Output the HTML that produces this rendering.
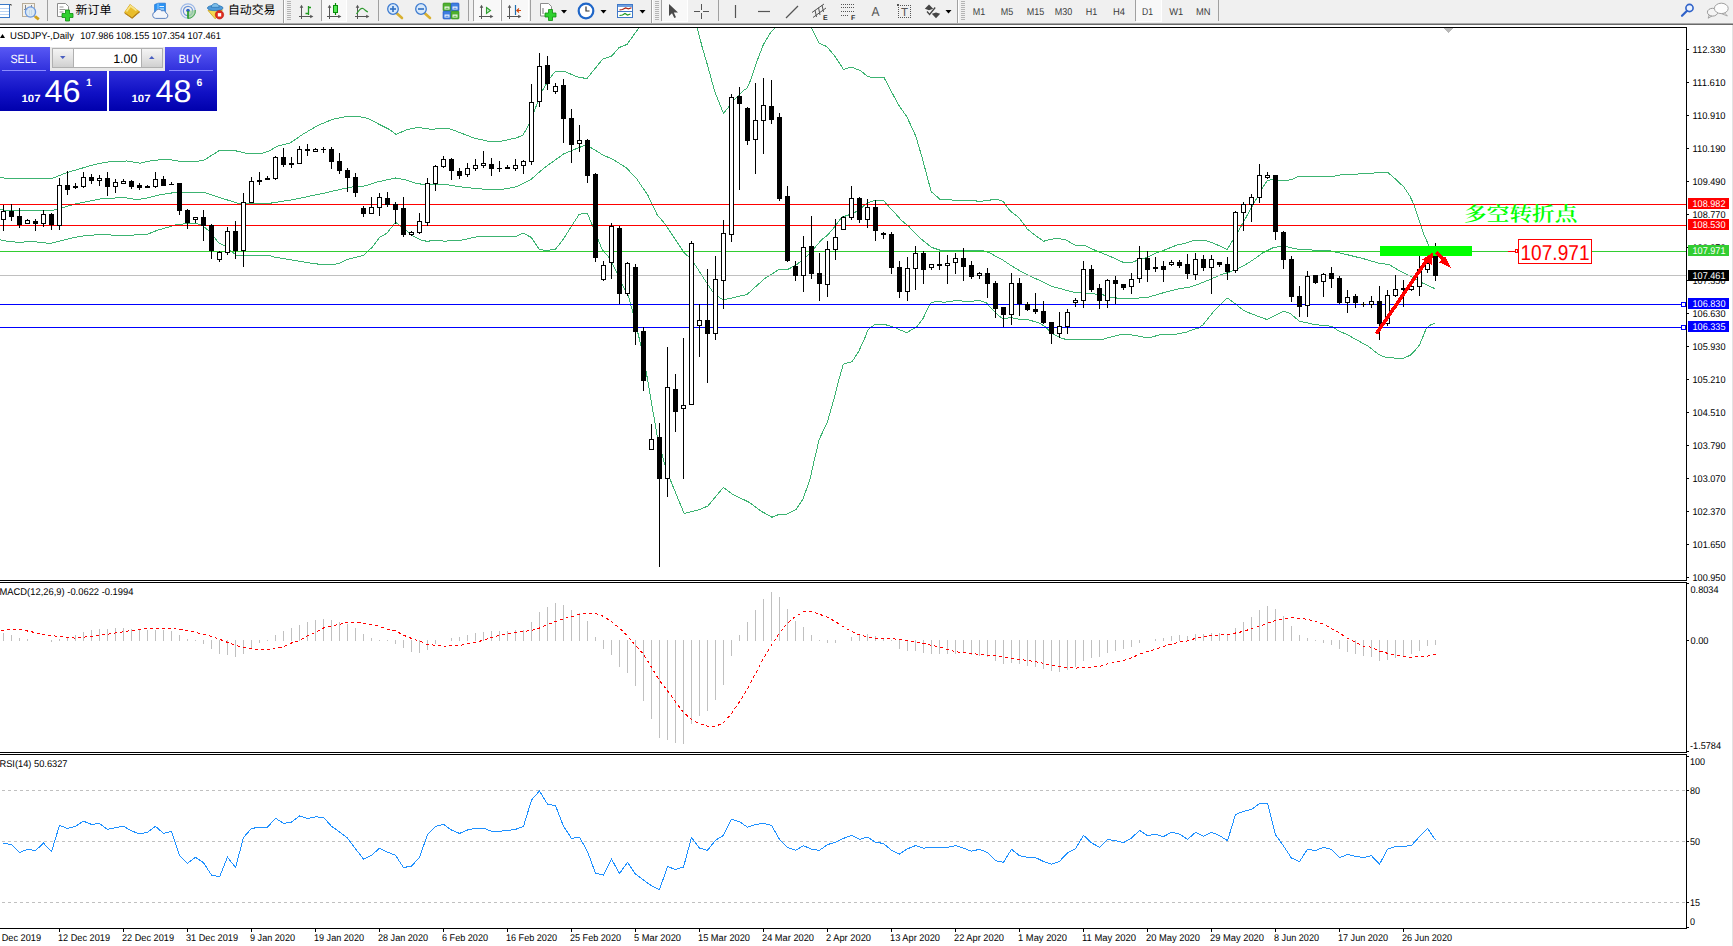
<!DOCTYPE html>
<html><head><meta charset="utf-8"><title>USDJPY Daily</title>
<style>html,body{margin:0;padding:0;background:#fff;overflow:hidden}body{width:1733px;height:946px}svg text{text-rendering:geometricPrecision}</style></head>
<body>
<svg width="1733" height="946" viewBox="0 0 1733 946" style="display:block">
<g shape-rendering="crispEdges">
<rect x="0" y="0" width="1733" height="946" fill="#fff"/>
<rect x="0" y="0" width="1733" height="23" fill="#f0f0f0"/>
<rect x="0" y="23" width="1733" height="1" fill="#a8a8a8"/>
<rect x="0" y="24" width="1733" height="1" fill="#696969"/>
<rect x="1732" y="25" width="1" height="921" fill="#e3e3e3"/>
<rect x="0" y="27" width="1687" height="1" fill="#000"/>
<rect x="1686" y="27" width="1" height="554" fill="#000"/>
<rect x="0" y="580" width="1687" height="1" fill="#000"/>
<rect x="0" y="582" width="1687" height="1" fill="#000"/>
<rect x="1686" y="582" width="1" height="171" fill="#000"/>
<rect x="0" y="752" width="1687" height="1" fill="#000"/>
<rect x="0" y="754" width="1687" height="1" fill="#000"/>
<rect x="1686" y="754" width="1" height="175" fill="#000"/>
<rect x="0" y="928" width="1687" height="1" fill="#000"/>
</g>
<g shape-rendering="crispEdges">
<polyline points="0.0,177.5 7.5,178.5 52.0,178.5 67.0,172.5 95.0,164.4 112.0,161.2 127.0,161.0 140.0,163.2 153.0,160.3 168.0,159.4 179.4,161.3 194.4,161.6 203.8,160.3 218.8,150.9 233.8,150.4 246.9,153.4 261.9,153.4 269.4,150.9 276.9,146.3 290.0,143.1 303.1,134.1 318.1,125.3 333.1,119.1 346.3,116.6 359.4,116.6 366.9,118.1 380.0,124.7 389.4,129.4 395.9,134.4 406.3,129.9 417.5,127.5 432.5,129.4 439.5,128.2 447.0,128.2 453.0,129.9 473.0,137.7 488.0,141.3 502.0,141.1 517.0,137.7 523.0,135.1 529.0,124.3 534.0,111.8 541.7,91.8 549.0,79.4 555.4,71.3 564.0,71.3 579.0,77.5 587.0,78.4 603.0,58.8 611.5,56.3 619.0,47.6 627.0,44.4 638.7,28.0" fill="none" stroke="#3cb371" stroke-width="1"/>
<polyline points="697.3,28.0 702.3,47.6 707.3,64.4 714.8,91.8 723.5,113.4 734.7,99.3 743.4,90.6 747.2,88.1 750.9,79.4 757.2,60.7 763.4,44.5 770.9,32.0 775.2,28.0" fill="none" stroke="#3cb371" stroke-width="1"/>
<polyline points="811.4,28.0 818.9,43.0 827.0,46.7 835.4,56.9 843.5,69.4 851.6,67.1 860.3,70.6 867.8,76.5 872.8,77.5 884.0,77.5 891.5,91.8 899.0,105.6 906.5,116.2 913.1,130.0 916.2,137.5 922.4,158.7 927.4,177.4 931.2,191.7 939.9,199.2 951.1,199.6 953.6,200.4 974.8,200.4 977.3,201.3 982.3,201.3 983.5,200.4 989.8,200.4 992.3,199.2 997.3,199.2 1003.5,201.7 1007.2,207.3 1011.0,211.7 1018.5,217.3 1023.4,223.5 1027.2,229.1 1034.9,235.0 1043.5,241.3 1049.6,239.5 1056.1,238.5 1064.8,239.4 1076.0,245.6 1084.8,245.6 1097.2,251.2 1109.7,256.2 1123.4,262.4 1132.1,262.4 1139.6,259.3 1147.1,257.4 1155.8,253.1 1164.6,250.0 1177.0,245.0 1185.8,243.1 1194.5,240.2 1205.5,240.4 1214.2,243.5 1227.3,249.5 1239.1,229.8 1251.6,207.4 1262.8,187.4 1267.2,180.6 1272.8,179.3 1280.3,180.6 1285.3,180.6 1292.8,179.3 1299.0,176.2 1333.9,176.2 1343.9,174.3 1357.6,174.3 1360.1,173.1 1373.8,173.1 1376.3,172.2 1387.5,172.2 1395.0,178.7 1403.7,186.8 1410.0,196.2 1414.0,204.9 1424.1,235.0 1428.8,245.5 1435.0,253.0" fill="none" stroke="#3cb371" stroke-width="1"/>
<polyline points="0.0,209.3 7.5,210.5 52.0,210.5 62.0,207.8 77.0,203.6 103.5,198.4 125.0,197.7 137.0,199.7 147.0,198.0 160.0,194.7 177.0,192.2 204.5,192.4 216.0,196.5 238.4,203.3 269.6,203.3 293.3,199.6 322.0,193.6 350.7,187.1 365.6,185.9 378.0,181.8 395.5,178.0 405.5,179.9 418.0,183.9 432.0,184.5 444.5,184.2 457.0,186.4 473.0,188.2 488.0,189.6 503.0,189.2 517.0,186.7 530.5,179.9 544.0,168.0 564.0,153.7 585.4,145.0 591.6,148.1 604.0,155.6 613.0,159.3 626.5,168.0 636.5,178.6 648.0,195.5 649.9,200.0 657.3,215.0 664.8,223.7 677.3,242.4 684.8,253.6 689.8,257.4 696.0,266.1 704.7,279.8 712.2,291.0 719.7,297.9 724.0,299.8 747.0,294.5 764.6,278.6 779.5,269.2 788.3,269.2 797.0,264.3 807.0,256.2 814.4,248.1 821.7,239.7 828.0,234.7 834.2,227.3 841.7,217.3 849.1,214.8 857.9,211.0 864.1,205.4 870.3,201.7 876.6,200.2 883.4,200.4 887.8,205.4 896.5,214.8 901.5,220.4 909.0,226.6 919.2,237.5 931.6,247.4 940.4,250.3 981.5,250.3 987.7,252.2 990.0,253.1 1002.5,259.9 1014.9,268.0 1027.4,274.9 1039.9,280.5 1051.1,286.1 1062.3,289.2 1074.8,292.6 1082.3,292.6 1089.8,293.6 1102.2,294.6 1109.7,297.1 1120.9,298.6 1133.4,298.6 1148.4,297.1 1164.6,292.4 1177.0,289.2 1189.5,287.1 1198.0,284.3 1210.5,279.3 1220.4,274.9 1230.4,271.8 1244.1,265.6 1252.9,260.0 1262.8,252.9 1272.8,247.9 1280.3,246.3 1287.8,247.0 1299.0,249.5 1307.7,249.5 1315.2,250.4 1327.7,250.4 1335.2,252.0 1347.6,254.8 1363.8,258.8 1378.8,263.2 1388.8,264.5 1400.0,271.0 1410.0,276.0 1421.8,282.7 1434.6,288.5" fill="none" stroke="#3cb371" stroke-width="1"/>
<polyline points="0.0,239.8 7.5,241.3 21.0,242.5 29.0,241.0 50.0,243.5 75.0,237.3 87.0,235.4 110.0,234.2 112.0,235.4 125.0,235.4 147.0,234.4 157.0,230.4 177.0,224.6 192.5,223.1 200.0,224.3 205.0,227.5 211.0,233.0 218.6,242.7 225.0,245.9 230.0,249.9 236.0,255.1 268.5,255.1 274.7,257.1 297.2,260.9 312.0,263.4 321.0,264.4 333.4,264.4 339.6,263.4 347.0,259.6 363.3,255.5 372.0,247.4 379.5,237.4 387.0,233.1 392.0,226.8 395.5,222.3 405.5,229.8 410.5,234.8 420.5,239.8 428.0,241.6 432.0,240.0 444.5,241.2 462.0,240.0 478.0,236.6 510.0,236.4 516.2,236.4 523.1,233.0 531.2,237.4 539.3,249.3 546.2,250.5 555.5,249.3 563.6,238.7 572.3,224.9 579.2,214.3 587.3,213.1 591.7,223.7 597.3,237.4 602.3,249.9 608.5,256.7 616.0,271.1 623.5,287.3 628.4,296.0 632.8,312.2 639.9,341.1 646.1,371.1 651.0,400.0 657.3,436.2 664.8,464.8 669.8,478.6 684.1,513.5 699.7,509.5 707.8,506.0 723.4,487.3 732.1,494.1 749.6,502.5 760.8,511.0 772.0,517.2 779.5,514.2 787.0,514.2 796.0,509.7 803.2,498.6 810.2,478.6 814.2,460.5 819.2,439.4 827.3,422.3 835.3,394.2 839.3,378.2 843.3,364.1 852.0,361.7 858.4,352.0 864.0,340.0 868.0,329.9 874.3,324.7 885.5,324.7 894.2,327.4 906.7,332.7 916.7,326.8 922.9,318.7 930.4,303.1 936.6,301.3 944.1,302.3 956.6,300.4 969.0,301.7 979.0,300.2 986.5,302.9 990.0,307.3 997.5,314.8 1003.7,319.2 1010.0,317.5 1018.7,319.2 1028.7,319.8 1039.9,323.3 1046.1,327.3 1051.1,332.9 1059.8,337.5 1066.1,339.5 1102.2,339.5 1112.2,336.6 1122.2,334.1 1130.9,334.8 1145.9,337.5 1152.1,337.0 1162.1,334.1 1173.3,334.8 1185.8,332.3 1194.5,329.1 1198.0,328.3 1203.0,324.8 1213.0,312.3 1227.3,298.0 1235.4,303.9 1244.1,310.8 1254.1,314.8 1267.2,319.6 1283.4,311.1 1290.3,313.6 1299.6,321.3 1315.2,324.6 1331.4,326.3 1338.9,331.0 1347.6,334.8 1357.6,340.4 1368.8,346.6 1378.8,354.7 1385.0,357.0 1392.5,357.9 1402.5,358.5 1410.0,355.4 1414.0,351.6 1419.5,345.0 1426.5,328.0 1431.1,324.5 1434.6,323.4" fill="none" stroke="#3cb371" stroke-width="1"/>
</g>
<g shape-rendering="crispEdges">
<rect x="0" y="275" width="1686" height="1" fill="#c0c0c0"/>
<rect x="0" y="204" width="1686" height="1" fill="#ff0000"/>
<rect x="0" y="225" width="1686" height="1" fill="#ff0000"/>
<rect x="0" y="251" width="1686" height="1" fill="#32cd32"/>
<rect x="0" y="304" width="1686" height="1" fill="#0000ff"/>
<rect x="0" y="327" width="1686" height="1" fill="#0000ff"/>
<rect x="3" y="205" width="1" height="26" fill="#000"/>
<rect x="1" y="211" width="5" height="9" fill="#000"/>
<rect x="2" y="212" width="3" height="7" fill="#fff"/>
<rect x="11" y="204" width="1" height="17" fill="#000"/>
<rect x="9" y="211" width="5" height="6" fill="#000"/>
<rect x="19" y="208" width="1" height="20" fill="#000"/>
<rect x="17" y="216" width="5" height="9" fill="#000"/>
<rect x="27" y="219" width="1" height="5" fill="#000"/>
<rect x="25" y="220" width="5" height="4" fill="#000"/>
<rect x="26" y="221" width="3" height="2" fill="#fff"/>
<rect x="35" y="219" width="1" height="12" fill="#000"/>
<rect x="33" y="221" width="5" height="3" fill="#000"/>
<rect x="43" y="210" width="1" height="17" fill="#000"/>
<rect x="41" y="214" width="5" height="10" fill="#000"/>
<rect x="42" y="215" width="3" height="8" fill="#fff"/>
<rect x="51" y="213" width="1" height="17" fill="#000"/>
<rect x="49" y="214" width="5" height="11" fill="#000"/>
<rect x="59" y="178" width="1" height="52" fill="#000"/>
<rect x="57" y="185" width="5" height="41" fill="#000"/>
<rect x="58" y="186" width="3" height="39" fill="#fff"/>
<rect x="67" y="171" width="1" height="24" fill="#000"/>
<rect x="65" y="185" width="5" height="5" fill="#000"/>
<rect x="75" y="183" width="1" height="6" fill="#000"/>
<rect x="73" y="186" width="5" height="2" fill="#000"/>
<rect x="83" y="172" width="1" height="16" fill="#000"/>
<rect x="81" y="177" width="5" height="10" fill="#000"/>
<rect x="82" y="178" width="3" height="8" fill="#fff"/>
<rect x="91" y="174" width="1" height="10" fill="#000"/>
<rect x="89" y="177" width="5" height="4" fill="#000"/>
<rect x="99" y="175" width="1" height="11" fill="#000"/>
<rect x="97" y="178" width="5" height="3" fill="#000"/>
<rect x="98" y="179" width="3" height="1" fill="#fff"/>
<rect x="107" y="172" width="1" height="24" fill="#000"/>
<rect x="105" y="178" width="5" height="9" fill="#000"/>
<rect x="115" y="179" width="1" height="14" fill="#000"/>
<rect x="113" y="182" width="5" height="5" fill="#000"/>
<rect x="114" y="183" width="3" height="3" fill="#fff"/>
<rect x="123" y="179" width="1" height="5" fill="#000"/>
<rect x="121" y="181" width="5" height="3" fill="#000"/>
<rect x="122" y="182" width="3" height="1" fill="#fff"/>
<rect x="131" y="180" width="1" height="9" fill="#000"/>
<rect x="129" y="181" width="5" height="6" fill="#000"/>
<rect x="139" y="183" width="1" height="7" fill="#000"/>
<rect x="137" y="185" width="5" height="3" fill="#000"/>
<rect x="147" y="185" width="1" height="3" fill="#000"/>
<rect x="145" y="186" width="5" height="2" fill="#000"/>
<rect x="155" y="172" width="1" height="16" fill="#000"/>
<rect x="153" y="179" width="5" height="8" fill="#000"/>
<rect x="154" y="180" width="3" height="6" fill="#fff"/>
<rect x="163" y="176" width="1" height="10" fill="#000"/>
<rect x="161" y="179" width="5" height="7" fill="#000"/>
<rect x="171" y="182" width="1" height="3" fill="#000"/>
<rect x="169" y="184" width="5" height="1" fill="#000"/>
<rect x="179" y="183" width="1" height="32" fill="#000"/>
<rect x="177" y="183" width="5" height="28" fill="#000"/>
<rect x="187" y="209" width="1" height="20" fill="#000"/>
<rect x="185" y="210" width="5" height="13" fill="#000"/>
<rect x="195" y="217" width="1" height="6" fill="#000"/>
<rect x="193" y="217" width="5" height="3" fill="#000"/>
<rect x="194" y="218" width="3" height="1" fill="#fff"/>
<rect x="203" y="210" width="1" height="31" fill="#000"/>
<rect x="201" y="217" width="5" height="9" fill="#000"/>
<rect x="211" y="224" width="1" height="35" fill="#000"/>
<rect x="209" y="225" width="5" height="26" fill="#000"/>
<rect x="219" y="251" width="1" height="11" fill="#000"/>
<rect x="217" y="252" width="5" height="8" fill="#000"/>
<rect x="218" y="253" width="3" height="6" fill="#fff"/>
<rect x="227" y="227" width="1" height="28" fill="#000"/>
<rect x="225" y="231" width="5" height="22" fill="#000"/>
<rect x="226" y="232" width="3" height="20" fill="#fff"/>
<rect x="235" y="221" width="1" height="38" fill="#000"/>
<rect x="233" y="231" width="5" height="20" fill="#000"/>
<rect x="243" y="193" width="1" height="74" fill="#000"/>
<rect x="241" y="202" width="5" height="49" fill="#000"/>
<rect x="242" y="203" width="3" height="47" fill="#fff"/>
<rect x="251" y="177" width="1" height="26" fill="#000"/>
<rect x="249" y="181" width="5" height="22" fill="#000"/>
<rect x="250" y="182" width="3" height="20" fill="#fff"/>
<rect x="259" y="172" width="1" height="13" fill="#000"/>
<rect x="257" y="180" width="5" height="2" fill="#000"/>
<rect x="267" y="176" width="1" height="4" fill="#000"/>
<rect x="265" y="178" width="5" height="2" fill="#000"/>
<rect x="275" y="156" width="1" height="24" fill="#000"/>
<rect x="273" y="157" width="5" height="22" fill="#000"/>
<rect x="274" y="158" width="3" height="20" fill="#fff"/>
<rect x="283" y="148" width="1" height="19" fill="#000"/>
<rect x="281" y="157" width="5" height="8" fill="#000"/>
<rect x="291" y="157" width="1" height="11" fill="#000"/>
<rect x="289" y="163" width="5" height="2" fill="#000"/>
<rect x="299" y="146" width="1" height="18" fill="#000"/>
<rect x="297" y="149" width="5" height="15" fill="#000"/>
<rect x="298" y="150" width="3" height="13" fill="#fff"/>
<rect x="307" y="144" width="1" height="12" fill="#000"/>
<rect x="305" y="149" width="5" height="2" fill="#000"/>
<rect x="315" y="148" width="1" height="4" fill="#000"/>
<rect x="313" y="149" width="5" height="3" fill="#000"/>
<rect x="314" y="150" width="3" height="1" fill="#fff"/>
<rect x="323" y="147" width="1" height="6" fill="#000"/>
<rect x="321" y="149" width="5" height="1" fill="#000"/>
<rect x="331" y="147" width="1" height="22" fill="#000"/>
<rect x="329" y="149" width="5" height="13" fill="#000"/>
<rect x="339" y="153" width="1" height="21" fill="#000"/>
<rect x="337" y="161" width="5" height="10" fill="#000"/>
<rect x="347" y="168" width="1" height="24" fill="#000"/>
<rect x="345" y="170" width="5" height="8" fill="#000"/>
<rect x="355" y="173" width="1" height="24" fill="#000"/>
<rect x="353" y="177" width="5" height="16" fill="#000"/>
<rect x="363" y="206" width="1" height="11" fill="#000"/>
<rect x="361" y="208" width="5" height="6" fill="#000"/>
<rect x="371" y="197" width="1" height="17" fill="#000"/>
<rect x="369" y="207" width="5" height="7" fill="#000"/>
<rect x="370" y="208" width="3" height="5" fill="#fff"/>
<rect x="379" y="193" width="1" height="23" fill="#000"/>
<rect x="377" y="197" width="5" height="11" fill="#000"/>
<rect x="378" y="198" width="3" height="9" fill="#fff"/>
<rect x="387" y="192" width="1" height="15" fill="#000"/>
<rect x="385" y="198" width="5" height="7" fill="#000"/>
<rect x="395" y="202" width="1" height="22" fill="#000"/>
<rect x="393" y="204" width="5" height="6" fill="#000"/>
<rect x="403" y="197" width="1" height="40" fill="#000"/>
<rect x="401" y="208" width="5" height="27" fill="#000"/>
<rect x="411" y="231" width="1" height="5" fill="#000"/>
<rect x="409" y="232" width="5" height="3" fill="#000"/>
<rect x="410" y="233" width="3" height="1" fill="#fff"/>
<rect x="419" y="213" width="1" height="21" fill="#000"/>
<rect x="417" y="221" width="5" height="12" fill="#000"/>
<rect x="418" y="222" width="3" height="10" fill="#fff"/>
<rect x="427" y="178" width="1" height="48" fill="#000"/>
<rect x="425" y="183" width="5" height="40" fill="#000"/>
<rect x="426" y="184" width="3" height="38" fill="#fff"/>
<rect x="435" y="165" width="1" height="26" fill="#000"/>
<rect x="433" y="166" width="5" height="18" fill="#000"/>
<rect x="434" y="167" width="3" height="16" fill="#fff"/>
<rect x="443" y="156" width="1" height="12" fill="#000"/>
<rect x="441" y="159" width="5" height="8" fill="#000"/>
<rect x="442" y="160" width="3" height="6" fill="#fff"/>
<rect x="451" y="158" width="1" height="22" fill="#000"/>
<rect x="449" y="159" width="5" height="12" fill="#000"/>
<rect x="459" y="168" width="1" height="11" fill="#000"/>
<rect x="457" y="171" width="5" height="5" fill="#000"/>
<rect x="467" y="163" width="1" height="14" fill="#000"/>
<rect x="465" y="168" width="5" height="7" fill="#000"/>
<rect x="466" y="169" width="3" height="5" fill="#fff"/>
<rect x="475" y="159" width="1" height="12" fill="#000"/>
<rect x="473" y="165" width="5" height="4" fill="#000"/>
<rect x="474" y="166" width="3" height="2" fill="#fff"/>
<rect x="483" y="151" width="1" height="17" fill="#000"/>
<rect x="481" y="163" width="5" height="3" fill="#000"/>
<rect x="482" y="164" width="3" height="1" fill="#fff"/>
<rect x="491" y="158" width="1" height="18" fill="#000"/>
<rect x="489" y="164" width="5" height="5" fill="#000"/>
<rect x="499" y="161" width="1" height="11" fill="#000"/>
<rect x="497" y="168" width="5" height="1" fill="#000"/>
<rect x="507" y="165" width="1" height="4" fill="#000"/>
<rect x="505" y="167" width="5" height="2" fill="#000"/>
<rect x="515" y="159" width="1" height="12" fill="#000"/>
<rect x="513" y="165" width="5" height="4" fill="#000"/>
<rect x="514" y="166" width="3" height="2" fill="#fff"/>
<rect x="523" y="160" width="1" height="14" fill="#000"/>
<rect x="521" y="161" width="5" height="5" fill="#000"/>
<rect x="522" y="162" width="3" height="3" fill="#fff"/>
<rect x="531" y="84" width="1" height="81" fill="#000"/>
<rect x="529" y="102" width="5" height="60" fill="#000"/>
<rect x="530" y="103" width="3" height="58" fill="#fff"/>
<rect x="539" y="53" width="1" height="54" fill="#000"/>
<rect x="537" y="66" width="5" height="36" fill="#000"/>
<rect x="538" y="67" width="3" height="34" fill="#fff"/>
<rect x="547" y="56" width="1" height="34" fill="#000"/>
<rect x="545" y="65" width="5" height="19" fill="#000"/>
<rect x="555" y="83" width="1" height="11" fill="#000"/>
<rect x="553" y="86" width="5" height="6" fill="#000"/>
<rect x="554" y="87" width="3" height="4" fill="#fff"/>
<rect x="563" y="79" width="1" height="64" fill="#000"/>
<rect x="561" y="85" width="5" height="34" fill="#000"/>
<rect x="571" y="109" width="1" height="54" fill="#000"/>
<rect x="569" y="118" width="5" height="27" fill="#000"/>
<rect x="579" y="125" width="1" height="27" fill="#000"/>
<rect x="577" y="140" width="5" height="4" fill="#000"/>
<rect x="578" y="141" width="3" height="2" fill="#fff"/>
<rect x="587" y="139" width="1" height="44" fill="#000"/>
<rect x="585" y="140" width="5" height="36" fill="#000"/>
<rect x="595" y="173" width="1" height="89" fill="#000"/>
<rect x="593" y="174" width="5" height="84" fill="#000"/>
<rect x="603" y="261" width="1" height="20" fill="#000"/>
<rect x="601" y="265" width="5" height="15" fill="#000"/>
<rect x="602" y="266" width="3" height="13" fill="#fff"/>
<rect x="611" y="223" width="1" height="56" fill="#000"/>
<rect x="609" y="226" width="5" height="37" fill="#000"/>
<rect x="610" y="227" width="3" height="35" fill="#fff"/>
<rect x="619" y="226" width="1" height="78" fill="#000"/>
<rect x="617" y="228" width="5" height="66" fill="#000"/>
<rect x="627" y="262" width="1" height="34" fill="#000"/>
<rect x="625" y="263" width="5" height="31" fill="#000"/>
<rect x="626" y="264" width="3" height="29" fill="#fff"/>
<rect x="635" y="264" width="1" height="81" fill="#000"/>
<rect x="633" y="267" width="5" height="65" fill="#000"/>
<rect x="643" y="327" width="1" height="64" fill="#000"/>
<rect x="641" y="331" width="5" height="50" fill="#000"/>
<rect x="651" y="424" width="1" height="26" fill="#000"/>
<rect x="649" y="439" width="5" height="11" fill="#000"/>
<rect x="650" y="440" width="3" height="9" fill="#fff"/>
<rect x="659" y="423" width="1" height="144" fill="#000"/>
<rect x="657" y="437" width="5" height="42" fill="#000"/>
<rect x="667" y="347" width="1" height="150" fill="#000"/>
<rect x="665" y="387" width="5" height="92" fill="#000"/>
<rect x="666" y="388" width="3" height="90" fill="#fff"/>
<rect x="675" y="374" width="1" height="58" fill="#000"/>
<rect x="673" y="389" width="5" height="23" fill="#000"/>
<rect x="683" y="338" width="1" height="141" fill="#000"/>
<rect x="681" y="405" width="5" height="4" fill="#000"/>
<rect x="682" y="406" width="3" height="2" fill="#fff"/>
<rect x="691" y="241" width="1" height="164" fill="#000"/>
<rect x="689" y="243" width="5" height="162" fill="#000"/>
<rect x="690" y="244" width="3" height="160" fill="#fff"/>
<rect x="699" y="304" width="1" height="53" fill="#000"/>
<rect x="697" y="320" width="5" height="6" fill="#000"/>
<rect x="698" y="321" width="3" height="4" fill="#fff"/>
<rect x="707" y="269" width="1" height="114" fill="#000"/>
<rect x="705" y="320" width="5" height="14" fill="#000"/>
<rect x="715" y="256" width="1" height="84" fill="#000"/>
<rect x="713" y="279" width="5" height="55" fill="#000"/>
<rect x="714" y="280" width="3" height="53" fill="#fff"/>
<rect x="723" y="220" width="1" height="89" fill="#000"/>
<rect x="721" y="233" width="5" height="48" fill="#000"/>
<rect x="722" y="234" width="3" height="46" fill="#fff"/>
<rect x="731" y="94" width="1" height="148" fill="#000"/>
<rect x="729" y="97" width="5" height="138" fill="#000"/>
<rect x="730" y="98" width="3" height="136" fill="#fff"/>
<rect x="739" y="87" width="1" height="103" fill="#000"/>
<rect x="737" y="96" width="5" height="8" fill="#000"/>
<rect x="747" y="107" width="1" height="38" fill="#000"/>
<rect x="745" y="108" width="5" height="33" fill="#000"/>
<rect x="755" y="83" width="1" height="91" fill="#000"/>
<rect x="753" y="120" width="5" height="20" fill="#000"/>
<rect x="754" y="121" width="3" height="18" fill="#fff"/>
<rect x="763" y="78" width="1" height="76" fill="#000"/>
<rect x="761" y="105" width="5" height="16" fill="#000"/>
<rect x="762" y="106" width="3" height="14" fill="#fff"/>
<rect x="771" y="80" width="1" height="44" fill="#000"/>
<rect x="769" y="106" width="5" height="14" fill="#000"/>
<rect x="779" y="113" width="1" height="88" fill="#000"/>
<rect x="777" y="117" width="5" height="82" fill="#000"/>
<rect x="787" y="186" width="1" height="76" fill="#000"/>
<rect x="785" y="196" width="5" height="65" fill="#000"/>
<rect x="795" y="261" width="1" height="20" fill="#000"/>
<rect x="793" y="266" width="5" height="10" fill="#000"/>
<rect x="803" y="236" width="1" height="56" fill="#000"/>
<rect x="801" y="247" width="5" height="29" fill="#000"/>
<rect x="802" y="248" width="3" height="27" fill="#fff"/>
<rect x="811" y="216" width="1" height="63" fill="#000"/>
<rect x="809" y="246" width="5" height="28" fill="#000"/>
<rect x="819" y="253" width="1" height="48" fill="#000"/>
<rect x="817" y="273" width="5" height="11" fill="#000"/>
<rect x="827" y="241" width="1" height="56" fill="#000"/>
<rect x="825" y="249" width="5" height="36" fill="#000"/>
<rect x="826" y="250" width="3" height="34" fill="#fff"/>
<rect x="835" y="219" width="1" height="41" fill="#000"/>
<rect x="833" y="237" width="5" height="13" fill="#000"/>
<rect x="834" y="238" width="3" height="11" fill="#fff"/>
<rect x="843" y="216" width="1" height="14" fill="#000"/>
<rect x="841" y="217" width="5" height="13" fill="#000"/>
<rect x="842" y="218" width="3" height="11" fill="#fff"/>
<rect x="851" y="186" width="1" height="34" fill="#000"/>
<rect x="849" y="198" width="5" height="20" fill="#000"/>
<rect x="850" y="199" width="3" height="18" fill="#fff"/>
<rect x="859" y="197" width="1" height="26" fill="#000"/>
<rect x="857" y="198" width="5" height="22" fill="#000"/>
<rect x="867" y="199" width="1" height="29" fill="#000"/>
<rect x="865" y="207" width="5" height="13" fill="#000"/>
<rect x="866" y="208" width="3" height="11" fill="#fff"/>
<rect x="875" y="200" width="1" height="41" fill="#000"/>
<rect x="873" y="207" width="5" height="24" fill="#000"/>
<rect x="883" y="232" width="1" height="7" fill="#000"/>
<rect x="881" y="233" width="5" height="2" fill="#000"/>
<rect x="891" y="232" width="1" height="42" fill="#000"/>
<rect x="889" y="234" width="5" height="34" fill="#000"/>
<rect x="899" y="261" width="1" height="37" fill="#000"/>
<rect x="897" y="267" width="5" height="25" fill="#000"/>
<rect x="907" y="257" width="1" height="44" fill="#000"/>
<rect x="905" y="268" width="5" height="24" fill="#000"/>
<rect x="906" y="269" width="3" height="22" fill="#fff"/>
<rect x="915" y="246" width="1" height="44" fill="#000"/>
<rect x="913" y="253" width="5" height="16" fill="#000"/>
<rect x="914" y="254" width="3" height="14" fill="#fff"/>
<rect x="923" y="251" width="1" height="33" fill="#000"/>
<rect x="921" y="253" width="5" height="17" fill="#000"/>
<rect x="931" y="264" width="1" height="6" fill="#000"/>
<rect x="929" y="264" width="5" height="4" fill="#000"/>
<rect x="930" y="265" width="3" height="2" fill="#fff"/>
<rect x="939" y="252" width="1" height="18" fill="#000"/>
<rect x="937" y="264" width="5" height="2" fill="#000"/>
<rect x="947" y="255" width="1" height="29" fill="#000"/>
<rect x="945" y="263" width="5" height="3" fill="#000"/>
<rect x="946" y="264" width="3" height="1" fill="#fff"/>
<rect x="955" y="253" width="1" height="21" fill="#000"/>
<rect x="953" y="258" width="5" height="5" fill="#000"/>
<rect x="954" y="259" width="3" height="3" fill="#fff"/>
<rect x="963" y="248" width="1" height="33" fill="#000"/>
<rect x="961" y="258" width="5" height="9" fill="#000"/>
<rect x="971" y="261" width="1" height="18" fill="#000"/>
<rect x="969" y="265" width="5" height="12" fill="#000"/>
<rect x="979" y="272" width="1" height="7" fill="#000"/>
<rect x="977" y="273" width="5" height="3" fill="#000"/>
<rect x="978" y="274" width="3" height="1" fill="#fff"/>
<rect x="987" y="268" width="1" height="30" fill="#000"/>
<rect x="985" y="273" width="5" height="11" fill="#000"/>
<rect x="995" y="281" width="1" height="37" fill="#000"/>
<rect x="993" y="283" width="5" height="26" fill="#000"/>
<rect x="1003" y="307" width="1" height="20" fill="#000"/>
<rect x="1001" y="307" width="5" height="8" fill="#000"/>
<rect x="1011" y="273" width="1" height="52" fill="#000"/>
<rect x="1009" y="283" width="5" height="32" fill="#000"/>
<rect x="1010" y="284" width="3" height="30" fill="#fff"/>
<rect x="1019" y="278" width="1" height="38" fill="#000"/>
<rect x="1017" y="283" width="5" height="21" fill="#000"/>
<rect x="1027" y="302" width="1" height="9" fill="#000"/>
<rect x="1025" y="304" width="5" height="6" fill="#000"/>
<rect x="1035" y="293" width="1" height="21" fill="#000"/>
<rect x="1033" y="309" width="5" height="3" fill="#000"/>
<rect x="1043" y="301" width="1" height="23" fill="#000"/>
<rect x="1041" y="311" width="5" height="12" fill="#000"/>
<rect x="1051" y="322" width="1" height="22" fill="#000"/>
<rect x="1049" y="322" width="5" height="12" fill="#000"/>
<rect x="1059" y="312" width="1" height="26" fill="#000"/>
<rect x="1057" y="326" width="5" height="8" fill="#000"/>
<rect x="1058" y="327" width="3" height="6" fill="#fff"/>
<rect x="1067" y="309" width="1" height="25" fill="#000"/>
<rect x="1065" y="312" width="5" height="15" fill="#000"/>
<rect x="1066" y="313" width="3" height="13" fill="#fff"/>
<rect x="1075" y="298" width="1" height="9" fill="#000"/>
<rect x="1073" y="300" width="5" height="3" fill="#000"/>
<rect x="1074" y="301" width="3" height="1" fill="#fff"/>
<rect x="1083" y="261" width="1" height="47" fill="#000"/>
<rect x="1081" y="269" width="5" height="32" fill="#000"/>
<rect x="1082" y="270" width="3" height="30" fill="#fff"/>
<rect x="1091" y="265" width="1" height="27" fill="#000"/>
<rect x="1089" y="269" width="5" height="21" fill="#000"/>
<rect x="1099" y="284" width="1" height="25" fill="#000"/>
<rect x="1097" y="288" width="5" height="13" fill="#000"/>
<rect x="1107" y="279" width="1" height="29" fill="#000"/>
<rect x="1105" y="280" width="5" height="21" fill="#000"/>
<rect x="1106" y="281" width="3" height="19" fill="#fff"/>
<rect x="1115" y="276" width="1" height="28" fill="#000"/>
<rect x="1113" y="280" width="5" height="4" fill="#000"/>
<rect x="1123" y="284" width="1" height="6" fill="#000"/>
<rect x="1121" y="284" width="5" height="4" fill="#000"/>
<rect x="1131" y="273" width="1" height="21" fill="#000"/>
<rect x="1129" y="279" width="5" height="8" fill="#000"/>
<rect x="1130" y="280" width="3" height="6" fill="#fff"/>
<rect x="1139" y="246" width="1" height="37" fill="#000"/>
<rect x="1137" y="258" width="5" height="21" fill="#000"/>
<rect x="1138" y="259" width="3" height="19" fill="#fff"/>
<rect x="1147" y="251" width="1" height="31" fill="#000"/>
<rect x="1145" y="258" width="5" height="12" fill="#000"/>
<rect x="1155" y="257" width="1" height="15" fill="#000"/>
<rect x="1153" y="267" width="5" height="2" fill="#000"/>
<rect x="1163" y="261" width="1" height="21" fill="#000"/>
<rect x="1161" y="266" width="5" height="4" fill="#000"/>
<rect x="1171" y="260" width="1" height="6" fill="#000"/>
<rect x="1169" y="262" width="5" height="3" fill="#000"/>
<rect x="1170" y="263" width="3" height="1" fill="#fff"/>
<rect x="1179" y="260" width="1" height="8" fill="#000"/>
<rect x="1177" y="262" width="5" height="4" fill="#000"/>
<rect x="1187" y="254" width="1" height="25" fill="#000"/>
<rect x="1185" y="264" width="5" height="10" fill="#000"/>
<rect x="1195" y="253" width="1" height="27" fill="#000"/>
<rect x="1193" y="259" width="5" height="16" fill="#000"/>
<rect x="1194" y="260" width="3" height="14" fill="#fff"/>
<rect x="1203" y="255" width="1" height="16" fill="#000"/>
<rect x="1201" y="259" width="5" height="9" fill="#000"/>
<rect x="1211" y="255" width="1" height="39" fill="#000"/>
<rect x="1209" y="259" width="5" height="9" fill="#000"/>
<rect x="1210" y="260" width="3" height="7" fill="#fff"/>
<rect x="1219" y="262" width="1" height="5" fill="#000"/>
<rect x="1217" y="262" width="5" height="3" fill="#000"/>
<rect x="1227" y="257" width="1" height="23" fill="#000"/>
<rect x="1225" y="264" width="5" height="8" fill="#000"/>
<rect x="1235" y="211" width="1" height="62" fill="#000"/>
<rect x="1233" y="212" width="5" height="59" fill="#000"/>
<rect x="1234" y="213" width="3" height="57" fill="#fff"/>
<rect x="1243" y="202" width="1" height="29" fill="#000"/>
<rect x="1241" y="204" width="5" height="9" fill="#000"/>
<rect x="1242" y="205" width="3" height="7" fill="#fff"/>
<rect x="1251" y="194" width="1" height="28" fill="#000"/>
<rect x="1249" y="197" width="5" height="8" fill="#000"/>
<rect x="1250" y="198" width="3" height="6" fill="#fff"/>
<rect x="1259" y="164" width="1" height="39" fill="#000"/>
<rect x="1257" y="175" width="5" height="23" fill="#000"/>
<rect x="1258" y="176" width="3" height="21" fill="#fff"/>
<rect x="1267" y="172" width="1" height="7" fill="#000"/>
<rect x="1265" y="175" width="5" height="3" fill="#000"/>
<rect x="1266" y="176" width="3" height="1" fill="#fff"/>
<rect x="1275" y="175" width="1" height="65" fill="#000"/>
<rect x="1273" y="175" width="5" height="57" fill="#000"/>
<rect x="1283" y="231" width="1" height="38" fill="#000"/>
<rect x="1281" y="232" width="5" height="28" fill="#000"/>
<rect x="1291" y="256" width="1" height="46" fill="#000"/>
<rect x="1289" y="259" width="5" height="38" fill="#000"/>
<rect x="1299" y="286" width="1" height="31" fill="#000"/>
<rect x="1297" y="296" width="5" height="11" fill="#000"/>
<rect x="1307" y="271" width="1" height="46" fill="#000"/>
<rect x="1305" y="276" width="5" height="30" fill="#000"/>
<rect x="1306" y="277" width="3" height="28" fill="#fff"/>
<rect x="1315" y="275" width="1" height="9" fill="#000"/>
<rect x="1313" y="275" width="5" height="8" fill="#000"/>
<rect x="1323" y="273" width="1" height="24" fill="#000"/>
<rect x="1321" y="274" width="5" height="8" fill="#000"/>
<rect x="1322" y="275" width="3" height="6" fill="#fff"/>
<rect x="1331" y="267" width="1" height="21" fill="#000"/>
<rect x="1329" y="273" width="5" height="6" fill="#000"/>
<rect x="1339" y="276" width="1" height="28" fill="#000"/>
<rect x="1337" y="278" width="5" height="25" fill="#000"/>
<rect x="1347" y="290" width="1" height="23" fill="#000"/>
<rect x="1345" y="297" width="5" height="6" fill="#000"/>
<rect x="1346" y="298" width="3" height="4" fill="#fff"/>
<rect x="1355" y="294" width="1" height="14" fill="#000"/>
<rect x="1353" y="296" width="5" height="7" fill="#000"/>
<rect x="1363" y="302" width="1" height="5" fill="#000"/>
<rect x="1361" y="304" width="5" height="1" fill="#000"/>
<rect x="1371" y="296" width="1" height="12" fill="#000"/>
<rect x="1369" y="301" width="5" height="4" fill="#000"/>
<rect x="1370" y="302" width="3" height="2" fill="#fff"/>
<rect x="1379" y="286" width="1" height="54" fill="#000"/>
<rect x="1377" y="301" width="5" height="23" fill="#000"/>
<rect x="1387" y="290" width="1" height="36" fill="#000"/>
<rect x="1385" y="295" width="5" height="29" fill="#000"/>
<rect x="1386" y="296" width="3" height="27" fill="#fff"/>
<rect x="1395" y="275" width="1" height="22" fill="#000"/>
<rect x="1393" y="289" width="5" height="7" fill="#000"/>
<rect x="1394" y="290" width="3" height="5" fill="#fff"/>
<rect x="1403" y="280" width="1" height="27" fill="#000"/>
<rect x="1401" y="288" width="5" height="2" fill="#000"/>
<rect x="1411" y="286" width="1" height="5" fill="#000"/>
<rect x="1409" y="286" width="5" height="4" fill="#000"/>
<rect x="1410" y="287" width="3" height="2" fill="#fff"/>
<rect x="1419" y="253" width="1" height="43" fill="#000"/>
<rect x="1417" y="269" width="5" height="18" fill="#000"/>
<rect x="1418" y="270" width="3" height="16" fill="#fff"/>
<rect x="1427" y="256" width="1" height="17" fill="#000"/>
<rect x="1425" y="263" width="5" height="7" fill="#000"/>
<rect x="1426" y="264" width="3" height="5" fill="#fff"/>
<rect x="1435" y="243" width="1" height="38" fill="#000"/>
<rect x="1433" y="250" width="5" height="26" fill="#000"/>
</g>
<g shape-rendering="crispEdges">
<rect x="3" y="633" width="1" height="8" fill="#c0c0c0"/>
<rect x="11" y="635" width="1" height="6" fill="#c0c0c0"/>
<rect x="19" y="638" width="1" height="3" fill="#c0c0c0"/>
<rect x="27" y="639" width="1" height="2" fill="#c0c0c0"/>
<rect x="51" y="640" width="1" height="2" fill="#c0c0c0"/>
<rect x="59" y="639" width="1" height="2" fill="#c0c0c0"/>
<rect x="67" y="637" width="1" height="4" fill="#c0c0c0"/>
<rect x="75" y="635" width="1" height="6" fill="#c0c0c0"/>
<rect x="83" y="632" width="1" height="9" fill="#c0c0c0"/>
<rect x="91" y="630" width="1" height="11" fill="#c0c0c0"/>
<rect x="99" y="629" width="1" height="12" fill="#c0c0c0"/>
<rect x="107" y="629" width="1" height="12" fill="#c0c0c0"/>
<rect x="115" y="628" width="1" height="13" fill="#c0c0c0"/>
<rect x="123" y="628" width="1" height="13" fill="#c0c0c0"/>
<rect x="131" y="629" width="1" height="12" fill="#c0c0c0"/>
<rect x="139" y="630" width="1" height="11" fill="#c0c0c0"/>
<rect x="147" y="630" width="1" height="11" fill="#c0c0c0"/>
<rect x="155" y="630" width="1" height="11" fill="#c0c0c0"/>
<rect x="163" y="630" width="1" height="11" fill="#c0c0c0"/>
<rect x="171" y="631" width="1" height="10" fill="#c0c0c0"/>
<rect x="179" y="635" width="1" height="6" fill="#c0c0c0"/>
<rect x="187" y="639" width="1" height="2" fill="#c0c0c0"/>
<rect x="195" y="640" width="1" height="1" fill="#c0c0c0"/>
<rect x="203" y="640" width="1" height="4" fill="#c0c0c0"/>
<rect x="211" y="640" width="1" height="9" fill="#c0c0c0"/>
<rect x="219" y="640" width="1" height="14" fill="#c0c0c0"/>
<rect x="227" y="640" width="1" height="15" fill="#c0c0c0"/>
<rect x="235" y="640" width="1" height="17" fill="#c0c0c0"/>
<rect x="243" y="640" width="1" height="14" fill="#c0c0c0"/>
<rect x="251" y="640" width="1" height="8" fill="#c0c0c0"/>
<rect x="259" y="640" width="1" height="3" fill="#c0c0c0"/>
<rect x="267" y="640" width="1" height="1" fill="#c0c0c0"/>
<rect x="275" y="635" width="1" height="6" fill="#c0c0c0"/>
<rect x="283" y="631" width="1" height="10" fill="#c0c0c0"/>
<rect x="291" y="628" width="1" height="13" fill="#c0c0c0"/>
<rect x="299" y="625" width="1" height="16" fill="#c0c0c0"/>
<rect x="307" y="622" width="1" height="19" fill="#c0c0c0"/>
<rect x="315" y="620" width="1" height="21" fill="#c0c0c0"/>
<rect x="323" y="619" width="1" height="22" fill="#c0c0c0"/>
<rect x="331" y="620" width="1" height="21" fill="#c0c0c0"/>
<rect x="339" y="622" width="1" height="19" fill="#c0c0c0"/>
<rect x="347" y="624" width="1" height="17" fill="#c0c0c0"/>
<rect x="355" y="628" width="1" height="13" fill="#c0c0c0"/>
<rect x="363" y="634" width="1" height="7" fill="#c0c0c0"/>
<rect x="371" y="638" width="1" height="3" fill="#c0c0c0"/>
<rect x="379" y="640" width="1" height="1" fill="#c0c0c0"/>
<rect x="387" y="640" width="1" height="1" fill="#c0c0c0"/>
<rect x="395" y="640" width="1" height="4" fill="#c0c0c0"/>
<rect x="403" y="640" width="1" height="8" fill="#c0c0c0"/>
<rect x="411" y="640" width="1" height="12" fill="#c0c0c0"/>
<rect x="419" y="640" width="1" height="13" fill="#c0c0c0"/>
<rect x="427" y="640" width="1" height="10" fill="#c0c0c0"/>
<rect x="435" y="640" width="1" height="4" fill="#c0c0c0"/>
<rect x="451" y="638" width="1" height="3" fill="#c0c0c0"/>
<rect x="459" y="637" width="1" height="4" fill="#c0c0c0"/>
<rect x="467" y="635" width="1" height="6" fill="#c0c0c0"/>
<rect x="475" y="633" width="1" height="8" fill="#c0c0c0"/>
<rect x="483" y="632" width="1" height="9" fill="#c0c0c0"/>
<rect x="491" y="631" width="1" height="10" fill="#c0c0c0"/>
<rect x="499" y="631" width="1" height="10" fill="#c0c0c0"/>
<rect x="507" y="631" width="1" height="10" fill="#c0c0c0"/>
<rect x="515" y="630" width="1" height="11" fill="#c0c0c0"/>
<rect x="523" y="630" width="1" height="11" fill="#c0c0c0"/>
<rect x="531" y="622" width="1" height="19" fill="#c0c0c0"/>
<rect x="539" y="612" width="1" height="29" fill="#c0c0c0"/>
<rect x="547" y="607" width="1" height="34" fill="#c0c0c0"/>
<rect x="555" y="603" width="1" height="38" fill="#c0c0c0"/>
<rect x="563" y="605" width="1" height="36" fill="#c0c0c0"/>
<rect x="571" y="610" width="1" height="31" fill="#c0c0c0"/>
<rect x="579" y="613" width="1" height="28" fill="#c0c0c0"/>
<rect x="587" y="621" width="1" height="20" fill="#c0c0c0"/>
<rect x="595" y="637" width="1" height="4" fill="#c0c0c0"/>
<rect x="603" y="640" width="1" height="9" fill="#c0c0c0"/>
<rect x="611" y="640" width="1" height="15" fill="#c0c0c0"/>
<rect x="619" y="640" width="1" height="27" fill="#c0c0c0"/>
<rect x="627" y="640" width="1" height="33" fill="#c0c0c0"/>
<rect x="635" y="640" width="1" height="46" fill="#c0c0c0"/>
<rect x="643" y="640" width="1" height="61" fill="#c0c0c0"/>
<rect x="651" y="640" width="1" height="79" fill="#c0c0c0"/>
<rect x="659" y="640" width="1" height="98" fill="#c0c0c0"/>
<rect x="667" y="640" width="1" height="100" fill="#c0c0c0"/>
<rect x="675" y="640" width="1" height="103" fill="#c0c0c0"/>
<rect x="683" y="640" width="1" height="104" fill="#c0c0c0"/>
<rect x="691" y="640" width="1" height="84" fill="#c0c0c0"/>
<rect x="699" y="640" width="1" height="76" fill="#c0c0c0"/>
<rect x="707" y="640" width="1" height="71" fill="#c0c0c0"/>
<rect x="715" y="640" width="1" height="60" fill="#c0c0c0"/>
<rect x="723" y="640" width="1" height="45" fill="#c0c0c0"/>
<rect x="731" y="640" width="1" height="16" fill="#c0c0c0"/>
<rect x="739" y="635" width="1" height="6" fill="#c0c0c0"/>
<rect x="747" y="622" width="1" height="19" fill="#c0c0c0"/>
<rect x="755" y="610" width="1" height="31" fill="#c0c0c0"/>
<rect x="763" y="599" width="1" height="42" fill="#c0c0c0"/>
<rect x="771" y="592" width="1" height="49" fill="#c0c0c0"/>
<rect x="779" y="597" width="1" height="44" fill="#c0c0c0"/>
<rect x="787" y="609" width="1" height="32" fill="#c0c0c0"/>
<rect x="795" y="621" width="1" height="20" fill="#c0c0c0"/>
<rect x="803" y="627" width="1" height="14" fill="#c0c0c0"/>
<rect x="811" y="635" width="1" height="6" fill="#c0c0c0"/>
<rect x="819" y="640" width="1" height="1" fill="#c0c0c0"/>
<rect x="827" y="640" width="1" height="3" fill="#c0c0c0"/>
<rect x="835" y="640" width="1" height="3" fill="#c0c0c0"/>
<rect x="851" y="637" width="1" height="4" fill="#c0c0c0"/>
<rect x="859" y="635" width="1" height="6" fill="#c0c0c0"/>
<rect x="867" y="634" width="1" height="7" fill="#c0c0c0"/>
<rect x="875" y="636" width="1" height="5" fill="#c0c0c0"/>
<rect x="883" y="638" width="1" height="3" fill="#c0c0c0"/>
<rect x="891" y="640" width="1" height="1" fill="#c0c0c0"/>
<rect x="899" y="640" width="1" height="9" fill="#c0c0c0"/>
<rect x="907" y="640" width="1" height="11" fill="#c0c0c0"/>
<rect x="915" y="640" width="1" height="11" fill="#c0c0c0"/>
<rect x="923" y="640" width="1" height="13" fill="#c0c0c0"/>
<rect x="931" y="640" width="1" height="14" fill="#c0c0c0"/>
<rect x="939" y="640" width="1" height="14" fill="#c0c0c0"/>
<rect x="947" y="640" width="1" height="14" fill="#c0c0c0"/>
<rect x="955" y="640" width="1" height="14" fill="#c0c0c0"/>
<rect x="963" y="640" width="1" height="13" fill="#c0c0c0"/>
<rect x="971" y="640" width="1" height="15" fill="#c0c0c0"/>
<rect x="979" y="640" width="1" height="16" fill="#c0c0c0"/>
<rect x="987" y="640" width="1" height="17" fill="#c0c0c0"/>
<rect x="995" y="640" width="1" height="21" fill="#c0c0c0"/>
<rect x="1003" y="640" width="1" height="24" fill="#c0c0c0"/>
<rect x="1011" y="640" width="1" height="23" fill="#c0c0c0"/>
<rect x="1019" y="640" width="1" height="24" fill="#c0c0c0"/>
<rect x="1027" y="640" width="1" height="26" fill="#c0c0c0"/>
<rect x="1035" y="640" width="1" height="27" fill="#c0c0c0"/>
<rect x="1043" y="640" width="1" height="29" fill="#c0c0c0"/>
<rect x="1051" y="640" width="1" height="31" fill="#c0c0c0"/>
<rect x="1059" y="640" width="1" height="32" fill="#c0c0c0"/>
<rect x="1067" y="640" width="1" height="30" fill="#c0c0c0"/>
<rect x="1075" y="640" width="1" height="27" fill="#c0c0c0"/>
<rect x="1083" y="640" width="1" height="21" fill="#c0c0c0"/>
<rect x="1091" y="640" width="1" height="18" fill="#c0c0c0"/>
<rect x="1099" y="640" width="1" height="17" fill="#c0c0c0"/>
<rect x="1107" y="640" width="1" height="13" fill="#c0c0c0"/>
<rect x="1115" y="640" width="1" height="11" fill="#c0c0c0"/>
<rect x="1123" y="640" width="1" height="9" fill="#c0c0c0"/>
<rect x="1131" y="640" width="1" height="7" fill="#c0c0c0"/>
<rect x="1139" y="640" width="1" height="3" fill="#c0c0c0"/>
<rect x="1155" y="639" width="1" height="2" fill="#c0c0c0"/>
<rect x="1163" y="638" width="1" height="3" fill="#c0c0c0"/>
<rect x="1171" y="636" width="1" height="5" fill="#c0c0c0"/>
<rect x="1179" y="635" width="1" height="6" fill="#c0c0c0"/>
<rect x="1187" y="636" width="1" height="5" fill="#c0c0c0"/>
<rect x="1195" y="634" width="1" height="7" fill="#c0c0c0"/>
<rect x="1203" y="634" width="1" height="7" fill="#c0c0c0"/>
<rect x="1211" y="633" width="1" height="8" fill="#c0c0c0"/>
<rect x="1219" y="633" width="1" height="8" fill="#c0c0c0"/>
<rect x="1227" y="634" width="1" height="7" fill="#c0c0c0"/>
<rect x="1235" y="628" width="1" height="13" fill="#c0c0c0"/>
<rect x="1243" y="622" width="1" height="19" fill="#c0c0c0"/>
<rect x="1251" y="617" width="1" height="24" fill="#c0c0c0"/>
<rect x="1259" y="610" width="1" height="31" fill="#c0c0c0"/>
<rect x="1267" y="606" width="1" height="35" fill="#c0c0c0"/>
<rect x="1275" y="609" width="1" height="32" fill="#c0c0c0"/>
<rect x="1283" y="616" width="1" height="25" fill="#c0c0c0"/>
<rect x="1291" y="626" width="1" height="15" fill="#c0c0c0"/>
<rect x="1299" y="635" width="1" height="6" fill="#c0c0c0"/>
<rect x="1307" y="638" width="1" height="3" fill="#c0c0c0"/>
<rect x="1315" y="640" width="1" height="1" fill="#c0c0c0"/>
<rect x="1323" y="640" width="1" height="3" fill="#c0c0c0"/>
<rect x="1331" y="640" width="1" height="5" fill="#c0c0c0"/>
<rect x="1339" y="640" width="1" height="9" fill="#c0c0c0"/>
<rect x="1347" y="640" width="1" height="12" fill="#c0c0c0"/>
<rect x="1355" y="640" width="1" height="14" fill="#c0c0c0"/>
<rect x="1363" y="640" width="1" height="16" fill="#c0c0c0"/>
<rect x="1371" y="640" width="1" height="17" fill="#c0c0c0"/>
<rect x="1379" y="640" width="1" height="21" fill="#c0c0c0"/>
<rect x="1387" y="640" width="1" height="20" fill="#c0c0c0"/>
<rect x="1395" y="640" width="1" height="18" fill="#c0c0c0"/>
<rect x="1403" y="640" width="1" height="16" fill="#c0c0c0"/>
<rect x="1411" y="640" width="1" height="14" fill="#c0c0c0"/>
<rect x="1419" y="640" width="1" height="11" fill="#c0c0c0"/>
<rect x="1427" y="640" width="1" height="6" fill="#c0c0c0"/>
<rect x="1435" y="640" width="1" height="5" fill="#c0c0c0"/>
<polyline points="1.0,630.4 3.5,630.2 11.5,629.3 19.5,629.6 27.5,631.0 35.5,632.6 43.5,634.3 51.5,635.5 59.5,636.7 67.5,637.4 75.5,638.2 83.5,637.2 91.5,636.4 99.5,635.4 107.5,634.3 115.5,633.0 123.5,631.8 131.5,630.4 139.5,629.4 147.5,628.5 155.5,628.4 163.5,628.4 171.5,628.5 179.5,629.5 187.5,630.6 195.5,632.4 203.5,634.2 211.5,636.3 219.5,639.2 227.5,642.4 235.5,645.5 243.5,647.3 251.5,648.8 259.5,649.5 267.5,649.5 275.5,648.0 283.5,646.7 291.5,643.0 299.5,640.5 307.5,635.9 315.5,632.4 323.5,628.0 331.5,626.1 339.5,624.3 347.5,622.4 355.5,622.4 363.5,623.3 371.5,624.7 379.5,626.4 387.5,629.3 395.5,630.8 403.5,635.2 411.5,638.4 419.5,641.1 427.5,644.5 435.5,645.2 443.5,646.3 451.5,645.5 459.5,645.5 467.5,643.9 475.5,642.4 483.5,640.2 491.5,637.4 499.5,635.5 507.5,633.4 515.5,632.4 523.5,631.4 531.5,630.5 539.5,628.0 547.5,624.7 555.5,621.4 563.5,618.7 571.5,616.8 579.5,614.3 587.5,613.4 595.5,613.4 603.5,616.4 611.5,621.8 619.5,628.0 627.5,636.1 635.5,645.5 643.5,654.2 651.5,667.4 659.5,680.5 667.5,690.8 675.5,701.9 683.5,712.3 691.5,719.6 699.5,723.6 707.5,726.3 715.5,726.3 723.5,722.9 731.5,713.6 739.5,701.7 747.5,688.9 755.5,673.5 763.5,658.6 771.5,644.9 779.5,633.0 787.5,623.0 795.5,616.4 803.5,611.8 811.5,611.4 819.5,614.3 827.5,617.2 835.5,621.8 843.5,626.8 851.5,631.4 859.5,634.9 867.5,636.7 875.5,638.4 883.5,638.4 891.5,638.6 899.5,639.5 907.5,640.5 915.5,641.7 923.5,643.4 931.5,645.5 939.5,646.7 947.5,649.5 955.5,651.7 963.5,652.6 971.5,653.3 979.5,654.5 987.5,655.4 995.5,655.4 1003.5,657.3 1011.5,658.6 1019.5,659.6 1027.5,660.4 1035.5,661.7 1043.5,663.3 1051.5,665.4 1059.5,666.7 1067.5,667.3 1075.5,668.2 1083.5,667.3 1091.5,667.3 1099.5,666.4 1107.5,663.8 1115.5,662.3 1123.5,660.4 1131.5,657.9 1139.5,654.2 1147.5,651.5 1155.5,649.2 1163.5,646.3 1171.5,644.2 1179.5,642.1 1187.5,640.9 1195.5,638.4 1203.5,637.1 1211.5,635.5 1219.5,635.1 1227.5,634.6 1235.5,633.0 1243.5,631.4 1251.5,628.6 1259.5,626.1 1267.5,623.3 1275.5,620.5 1283.5,618.7 1291.5,617.7 1299.5,618.4 1307.5,619.3 1315.5,621.4 1323.5,624.3 1331.5,628.6 1339.5,633.0 1347.5,638.4 1355.5,642.1 1363.5,646.1 1371.5,647.3 1379.5,651.1 1387.5,653.3 1395.5,654.8 1403.5,656.3 1411.5,657.3 1419.5,656.4 1427.5,656.1 1435.5,654.2" fill="none" stroke="#ff0000" stroke-width="1" stroke-dasharray="3 3"/>
<line x1="2" y1="790.5" x2="1686" y2="790.5" stroke="#c0c0c0" stroke-width="1" stroke-dasharray="3 3"/>
<line x1="2" y1="841.5" x2="1686" y2="841.5" stroke="#c0c0c0" stroke-width="1" stroke-dasharray="3 3"/>
<line x1="2" y1="902.5" x2="1686" y2="902.5" stroke="#c0c0c0" stroke-width="1" stroke-dasharray="3 3"/>
<polyline points="3.5,843.1 11.5,844.6 19.5,852.5 27.5,849.3 35.5,850.6 43.5,843.1 51.5,851.6 59.5,825.3 67.5,828.5 75.5,826.3 83.5,821.2 91.5,824.4 99.5,823.4 107.5,829.4 115.5,827.6 123.5,826.3 131.5,830.9 139.5,833.8 147.5,832.4 155.5,826.3 163.5,833.4 171.5,831.3 179.5,855.3 187.5,863.4 195.5,857.2 203.5,862.8 211.5,875.0 219.5,876.9 227.5,857.2 235.5,867.5 243.5,837.5 251.5,828.5 259.5,827.2 267.5,827.2 275.5,818.2 283.5,823.4 291.5,822.1 299.5,815.9 307.5,818.4 315.5,816.9 323.5,817.3 331.5,826.3 339.5,831.9 347.5,838.1 355.5,848.8 363.5,859.1 371.5,855.3 379.5,848.2 387.5,852.1 395.5,855.3 403.5,867.5 411.5,866.2 419.5,857.2 427.5,834.7 435.5,826.3 443.5,824.4 451.5,830.0 459.5,833.4 467.5,830.0 475.5,828.1 483.5,828.1 491.5,831.3 499.5,831.3 507.5,830.4 515.5,829.4 523.5,826.3 531.5,800.0 539.5,791.0 547.5,804.1 555.5,805.6 563.5,826.3 571.5,838.4 579.5,837.1 587.5,851.6 595.5,873.1 603.5,875.0 611.5,859.1 619.5,873.5 627.5,862.4 635.5,874.1 643.5,880.1 651.5,885.7 659.5,889.6 667.5,866.6 675.5,869.4 683.5,867.1 691.5,837.5 699.5,848.2 707.5,850.3 715.5,840.3 723.5,835.3 731.5,819.3 739.5,821.6 747.5,827.2 755.5,824.4 763.5,823.4 771.5,825.3 779.5,839.4 787.5,847.3 795.5,850.3 803.5,845.6 811.5,849.3 819.5,850.3 827.5,844.6 835.5,842.2 843.5,838.4 851.5,835.3 859.5,839.4 867.5,837.1 875.5,842.2 883.5,843.5 891.5,850.3 899.5,854.0 907.5,848.8 915.5,845.6 923.5,848.2 931.5,847.3 939.5,847.3 947.5,847.3 955.5,845.6 963.5,848.2 971.5,851.2 979.5,849.3 987.5,852.5 995.5,860.6 1003.5,862.4 1011.5,849.3 1019.5,855.7 1027.5,857.2 1035.5,857.6 1043.5,861.5 1051.5,864.3 1059.5,861.3 1067.5,852.9 1075.5,848.8 1083.5,835.3 1091.5,842.8 1099.5,847.3 1107.5,839.4 1115.5,840.7 1123.5,842.6 1131.5,838.1 1139.5,830.4 1147.5,835.6 1155.5,834.3 1163.5,836.6 1171.5,832.3 1179.5,834.1 1187.5,839.4 1195.5,832.3 1203.5,836.2 1211.5,832.3 1219.5,835.6 1227.5,840.7 1235.5,814.6 1243.5,811.3 1251.5,809.4 1259.5,803.4 1267.5,803.4 1275.5,834.7 1283.5,845.9 1291.5,858.1 1299.5,861.5 1307.5,849.3 1315.5,850.6 1323.5,847.3 1331.5,849.3 1339.5,857.8 1347.5,854.4 1355.5,856.3 1363.5,857.6 1371.5,855.7 1379.5,864.3 1387.5,849.3 1395.5,846.5 1403.5,846.5 1411.5,845.4 1419.5,836.6 1427.5,828.5 1435.5,839.9" fill="none" stroke="#1e90ff" stroke-width="1"/>
</g>
<g shape-rendering="crispEdges">
<polygon points="1443,28 1453,28 1448,33" fill="#b8b8b8"/>
<rect x="1681" y="302" width="5" height="5" fill="#0000ff"/>
<rect x="1682" y="303" width="3" height="3" fill="#fff"/>
<rect x="1681" y="325" width="5" height="5" fill="#0000ff"/>
<rect x="1682" y="326" width="3" height="3" fill="#fff"/>
<rect x="1380" y="246" width="92" height="10" fill="#00ff00"/>
<rect x="1508" y="251" width="7" height="1" fill="#ff0000"/>
<rect x="1515" y="249" width="3" height="4" fill="#ff0000"/>
<rect x="1516" y="250" width="1" height="2" fill="#fff"/>
<rect x="1518" y="239" width="74" height="25" fill="#ff0000"/>
<rect x="1519" y="240" width="72" height="23" fill="#fff"/>
</g>
<line x1="1376.5" y1="333.5" x2="1428" y2="258.5" stroke="#ff0000" stroke-width="3.6" shape-rendering="crispEdges"/>
<polygon points="1433.5,252 1422,259.5 1431.5,265" fill="#ff0000" shape-rendering="crispEdges"/>
<line x1="1436.5" y1="252.5" x2="1447" y2="263" stroke="#ff0000" stroke-width="3" shape-rendering="crispEdges"/>
<polygon points="1450.5,267.5 1445,256.5 1439.5,262.5" fill="#ff0000" shape-rendering="crispEdges"/>
<text x="1520.5" y="260" font-size="21.5" fill="#ff0000" font-family="Liberation Sans, Arial, sans-serif" textLength="69" lengthAdjust="spacingAndGlyphs">107.971</text>
<text x="1464" y="220.5" font-size="20" fill="#00ff00" font-family="Liberation Serif, Noto Serif CJK SC, serif" font-weight="600" textLength="113.5" lengthAdjust="spacingAndGlyphs">多空转折点</text>
<g shape-rendering="crispEdges">
<rect x="1687" y="49" width="2" height="1" fill="#000"/>
<rect x="1687" y="82" width="2" height="1" fill="#000"/>
<rect x="1687" y="115" width="2" height="1" fill="#000"/>
<rect x="1687" y="148" width="2" height="1" fill="#000"/>
<rect x="1687" y="181" width="2" height="1" fill="#000"/>
<rect x="1687" y="214" width="2" height="1" fill="#000"/>
<rect x="1687" y="247" width="2" height="1" fill="#000"/>
<rect x="1687" y="280" width="2" height="1" fill="#000"/>
<rect x="1687" y="313" width="2" height="1" fill="#000"/>
<rect x="1687" y="346" width="2" height="1" fill="#000"/>
<rect x="1687" y="379" width="2" height="1" fill="#000"/>
<rect x="1687" y="412" width="2" height="1" fill="#000"/>
<rect x="1687" y="445" width="2" height="1" fill="#000"/>
<rect x="1687" y="478" width="2" height="1" fill="#000"/>
<rect x="1687" y="511" width="2" height="1" fill="#000"/>
<rect x="1687" y="544" width="2" height="1" fill="#000"/>
<rect x="1687" y="577" width="2" height="1" fill="#000"/>
<rect x="1687" y="583" width="2" height="1" fill="#000"/>
<rect x="1687" y="640" width="2" height="1" fill="#000"/>
<rect x="1687" y="751" width="2" height="1" fill="#000"/>
<rect x="1687" y="756" width="2" height="1" fill="#000"/>
<rect x="1687" y="790" width="2" height="1" fill="#000"/>
<rect x="1687" y="841" width="2" height="1" fill="#000"/>
<rect x="1687" y="902" width="2" height="1" fill="#000"/>
<rect x="1687" y="927" width="2" height="1" fill="#000"/>
<rect x="59" y="929" width="1" height="3" fill="#000"/>
<rect x="123" y="929" width="1" height="3" fill="#000"/>
<rect x="187" y="929" width="1" height="3" fill="#000"/>
<rect x="251" y="929" width="1" height="3" fill="#000"/>
<rect x="315" y="929" width="1" height="3" fill="#000"/>
<rect x="379" y="929" width="1" height="3" fill="#000"/>
<rect x="443" y="929" width="1" height="3" fill="#000"/>
<rect x="507" y="929" width="1" height="3" fill="#000"/>
<rect x="571" y="929" width="1" height="3" fill="#000"/>
<rect x="635" y="929" width="1" height="3" fill="#000"/>
<rect x="699" y="929" width="1" height="3" fill="#000"/>
<rect x="763" y="929" width="1" height="3" fill="#000"/>
<rect x="827" y="929" width="1" height="3" fill="#000"/>
<rect x="891" y="929" width="1" height="3" fill="#000"/>
<rect x="955" y="929" width="1" height="3" fill="#000"/>
<rect x="1019" y="929" width="1" height="3" fill="#000"/>
<rect x="1083" y="929" width="1" height="3" fill="#000"/>
<rect x="1147" y="929" width="1" height="3" fill="#000"/>
<rect x="1211" y="929" width="1" height="3" fill="#000"/>
<rect x="1275" y="929" width="1" height="3" fill="#000"/>
<rect x="1339" y="929" width="1" height="3" fill="#000"/>
<rect x="1403" y="929" width="1" height="3" fill="#000"/>
</g>
<text x="1692.5" y="53" font-size="9.8" fill="#000" font-family="Liberation Sans, Arial, sans-serif" textLength="33" lengthAdjust="spacingAndGlyphs">112.330</text>
<text x="1692.5" y="86" font-size="9.8" fill="#000" font-family="Liberation Sans, Arial, sans-serif" textLength="33" lengthAdjust="spacingAndGlyphs">111.610</text>
<text x="1692.5" y="119" font-size="9.8" fill="#000" font-family="Liberation Sans, Arial, sans-serif" textLength="33" lengthAdjust="spacingAndGlyphs">110.910</text>
<text x="1692.5" y="152" font-size="9.8" fill="#000" font-family="Liberation Sans, Arial, sans-serif" textLength="33" lengthAdjust="spacingAndGlyphs">110.190</text>
<text x="1692.5" y="185" font-size="9.8" fill="#000" font-family="Liberation Sans, Arial, sans-serif" textLength="33" lengthAdjust="spacingAndGlyphs">109.490</text>
<text x="1692.5" y="218" font-size="9.8" fill="#000" font-family="Liberation Sans, Arial, sans-serif" textLength="33" lengthAdjust="spacingAndGlyphs">108.770</text>
<text x="1692.5" y="251" font-size="9.8" fill="#000" font-family="Liberation Sans, Arial, sans-serif" textLength="33" lengthAdjust="spacingAndGlyphs">108.070</text>
<text x="1692.5" y="284" font-size="9.8" fill="#000" font-family="Liberation Sans, Arial, sans-serif" textLength="33" lengthAdjust="spacingAndGlyphs">107.350</text>
<text x="1692.5" y="317" font-size="9.8" fill="#000" font-family="Liberation Sans, Arial, sans-serif" textLength="33" lengthAdjust="spacingAndGlyphs">106.630</text>
<text x="1692.5" y="350" font-size="9.8" fill="#000" font-family="Liberation Sans, Arial, sans-serif" textLength="33" lengthAdjust="spacingAndGlyphs">105.930</text>
<text x="1692.5" y="383" font-size="9.8" fill="#000" font-family="Liberation Sans, Arial, sans-serif" textLength="33" lengthAdjust="spacingAndGlyphs">105.210</text>
<text x="1692.5" y="416" font-size="9.8" fill="#000" font-family="Liberation Sans, Arial, sans-serif" textLength="33" lengthAdjust="spacingAndGlyphs">104.510</text>
<text x="1692.5" y="449" font-size="9.8" fill="#000" font-family="Liberation Sans, Arial, sans-serif" textLength="33" lengthAdjust="spacingAndGlyphs">103.790</text>
<text x="1692.5" y="482" font-size="9.8" fill="#000" font-family="Liberation Sans, Arial, sans-serif" textLength="33" lengthAdjust="spacingAndGlyphs">103.070</text>
<text x="1692.5" y="515" font-size="9.8" fill="#000" font-family="Liberation Sans, Arial, sans-serif" textLength="33" lengthAdjust="spacingAndGlyphs">102.370</text>
<text x="1692.5" y="548" font-size="9.8" fill="#000" font-family="Liberation Sans, Arial, sans-serif" textLength="33" lengthAdjust="spacingAndGlyphs">101.650</text>
<text x="1692.5" y="581" font-size="9.8" fill="#000" font-family="Liberation Sans, Arial, sans-serif" textLength="33" lengthAdjust="spacingAndGlyphs">100.950</text>
<g shape-rendering="crispEdges">
<rect x="1688" y="198" width="41" height="11" fill="#ff0000"/>
<rect x="1688" y="219" width="41" height="11" fill="#ff0000"/>
<rect x="1688" y="245" width="41" height="11" fill="#32cd32"/>
<rect x="1688" y="298" width="41" height="11" fill="#0000ff"/>
<rect x="1688" y="321" width="41" height="11" fill="#0000ff"/>
<rect x="1688" y="270" width="41" height="11" fill="#000"/>
</g>
<text x="1692.5" y="207" font-size="9.8" fill="#fff" font-family="Liberation Sans, Arial, sans-serif" textLength="33" lengthAdjust="spacingAndGlyphs">108.982</text>
<text x="1692.5" y="228" font-size="9.8" fill="#fff" font-family="Liberation Sans, Arial, sans-serif" textLength="33" lengthAdjust="spacingAndGlyphs">108.530</text>
<text x="1692.5" y="254" font-size="9.8" fill="#fff" font-family="Liberation Sans, Arial, sans-serif" textLength="33" lengthAdjust="spacingAndGlyphs">107.971</text>
<text x="1692.5" y="307" font-size="9.8" fill="#fff" font-family="Liberation Sans, Arial, sans-serif" textLength="33" lengthAdjust="spacingAndGlyphs">106.830</text>
<text x="1692.5" y="330" font-size="9.8" fill="#fff" font-family="Liberation Sans, Arial, sans-serif" textLength="33" lengthAdjust="spacingAndGlyphs">106.335</text>
<text x="1692.5" y="279" font-size="9.8" fill="#fff" font-family="Liberation Sans, Arial, sans-serif" textLength="33" lengthAdjust="spacingAndGlyphs">107.461</text>
<text x="1690.5" y="593" font-size="9.8" fill="#000" font-family="Liberation Sans, Arial, sans-serif" textLength="28" lengthAdjust="spacingAndGlyphs">0.8034</text>
<text x="1690.5" y="644" font-size="9.8" fill="#000" font-family="Liberation Sans, Arial, sans-serif" textLength="18" lengthAdjust="spacingAndGlyphs">0.00</text>
<text x="1690" y="749" font-size="9.8" fill="#000" font-family="Liberation Sans, Arial, sans-serif" textLength="31" lengthAdjust="spacingAndGlyphs">-1.5784</text>
<text x="1690" y="765" font-size="9.8" fill="#000" font-family="Liberation Sans, Arial, sans-serif" textLength="15" lengthAdjust="spacingAndGlyphs">100</text>
<text x="1690" y="794" font-size="9.8" fill="#000" font-family="Liberation Sans, Arial, sans-serif" textLength="10" lengthAdjust="spacingAndGlyphs">80</text>
<text x="1690" y="845" font-size="9.8" fill="#000" font-family="Liberation Sans, Arial, sans-serif" textLength="10" lengthAdjust="spacingAndGlyphs">50</text>
<text x="1690" y="906" font-size="9.8" fill="#000" font-family="Liberation Sans, Arial, sans-serif" textLength="10" lengthAdjust="spacingAndGlyphs">15</text>
<text x="1690" y="925" font-size="9.8" fill="#000" font-family="Liberation Sans, Arial, sans-serif" textLength="5" lengthAdjust="spacingAndGlyphs">0</text>
<polygon points="0,38 5,38 2.5,34" fill="#000"/>
<text x="10" y="39" font-size="9.8" fill="#000" font-family="Liberation Sans, Arial, sans-serif" textLength="64" lengthAdjust="spacingAndGlyphs">USDJPY-,Daily</text>
<text x="80.3" y="39" font-size="9.8" fill="#000" font-family="Liberation Sans, Arial, sans-serif" textLength="140.5" lengthAdjust="spacingAndGlyphs">107.986 108.155 107.354 107.461</text>
<text x="-0.5" y="595" font-size="9.8" fill="#000" font-family="Liberation Sans, Arial, sans-serif" textLength="134" lengthAdjust="spacingAndGlyphs">MACD(12,26,9) -0.0622 -0.1994</text>
<text x="-0.5" y="767" font-size="9.8" fill="#000" font-family="Liberation Sans, Arial, sans-serif" textLength="68" lengthAdjust="spacingAndGlyphs">RSI(14) 50.6327</text>
<text x="-6" y="941" font-size="9.8" fill="#000" font-family="Liberation Sans, Arial, sans-serif" textLength="47" lengthAdjust="spacingAndGlyphs">2 Dec 2019</text>
<text x="58" y="941" font-size="9.8" fill="#000" font-family="Liberation Sans, Arial, sans-serif" textLength="52" lengthAdjust="spacingAndGlyphs">12 Dec 2019</text>
<text x="122" y="941" font-size="9.8" fill="#000" font-family="Liberation Sans, Arial, sans-serif" textLength="52" lengthAdjust="spacingAndGlyphs">22 Dec 2019</text>
<text x="186" y="941" font-size="9.8" fill="#000" font-family="Liberation Sans, Arial, sans-serif" textLength="52" lengthAdjust="spacingAndGlyphs">31 Dec 2019</text>
<text x="250" y="941" font-size="9.8" fill="#000" font-family="Liberation Sans, Arial, sans-serif" textLength="45" lengthAdjust="spacingAndGlyphs">9 Jan 2020</text>
<text x="314" y="941" font-size="9.8" fill="#000" font-family="Liberation Sans, Arial, sans-serif" textLength="50" lengthAdjust="spacingAndGlyphs">19 Jan 2020</text>
<text x="378" y="941" font-size="9.8" fill="#000" font-family="Liberation Sans, Arial, sans-serif" textLength="50" lengthAdjust="spacingAndGlyphs">28 Jan 2020</text>
<text x="442" y="941" font-size="9.8" fill="#000" font-family="Liberation Sans, Arial, sans-serif" textLength="46" lengthAdjust="spacingAndGlyphs">6 Feb 2020</text>
<text x="506" y="941" font-size="9.8" fill="#000" font-family="Liberation Sans, Arial, sans-serif" textLength="51" lengthAdjust="spacingAndGlyphs">16 Feb 2020</text>
<text x="570" y="941" font-size="9.8" fill="#000" font-family="Liberation Sans, Arial, sans-serif" textLength="51" lengthAdjust="spacingAndGlyphs">25 Feb 2020</text>
<text x="634" y="941" font-size="9.8" fill="#000" font-family="Liberation Sans, Arial, sans-serif" textLength="47" lengthAdjust="spacingAndGlyphs">5 Mar 2020</text>
<text x="698" y="941" font-size="9.8" fill="#000" font-family="Liberation Sans, Arial, sans-serif" textLength="52" lengthAdjust="spacingAndGlyphs">15 Mar 2020</text>
<text x="762" y="941" font-size="9.8" fill="#000" font-family="Liberation Sans, Arial, sans-serif" textLength="52" lengthAdjust="spacingAndGlyphs">24 Mar 2020</text>
<text x="826" y="941" font-size="9.8" fill="#000" font-family="Liberation Sans, Arial, sans-serif" textLength="45" lengthAdjust="spacingAndGlyphs">2 Apr 2020</text>
<text x="890" y="941" font-size="9.8" fill="#000" font-family="Liberation Sans, Arial, sans-serif" textLength="50" lengthAdjust="spacingAndGlyphs">13 Apr 2020</text>
<text x="954" y="941" font-size="9.8" fill="#000" font-family="Liberation Sans, Arial, sans-serif" textLength="50" lengthAdjust="spacingAndGlyphs">22 Apr 2020</text>
<text x="1018" y="941" font-size="9.8" fill="#000" font-family="Liberation Sans, Arial, sans-serif" textLength="49" lengthAdjust="spacingAndGlyphs">1 May 2020</text>
<text x="1082" y="941" font-size="9.8" fill="#000" font-family="Liberation Sans, Arial, sans-serif" textLength="54" lengthAdjust="spacingAndGlyphs">11 May 2020</text>
<text x="1146" y="941" font-size="9.8" fill="#000" font-family="Liberation Sans, Arial, sans-serif" textLength="54" lengthAdjust="spacingAndGlyphs">20 May 2020</text>
<text x="1210" y="941" font-size="9.8" fill="#000" font-family="Liberation Sans, Arial, sans-serif" textLength="54" lengthAdjust="spacingAndGlyphs">29 May 2020</text>
<text x="1274" y="941" font-size="9.8" fill="#000" font-family="Liberation Sans, Arial, sans-serif" textLength="45" lengthAdjust="spacingAndGlyphs">8 Jun 2020</text>
<text x="1338" y="941" font-size="9.8" fill="#000" font-family="Liberation Sans, Arial, sans-serif" textLength="50" lengthAdjust="spacingAndGlyphs">17 Jun 2020</text>
<text x="1402" y="941" font-size="9.8" fill="#000" font-family="Liberation Sans, Arial, sans-serif" textLength="50" lengthAdjust="spacingAndGlyphs">26 Jun 2020</text>
<g shape-rendering="crispEdges">
<rect x="47" y="0" width="1" height="21" fill="#a0a0a0"/>
<rect x="283" y="0" width="1" height="23" fill="#a0a0a0"/>
<rect x="284" y="0" width="1" height="23" fill="#fff"/>
<rect x="287" y="1" width="4" height="1" fill="#b4b4b4"/>
<rect x="287" y="3" width="4" height="1" fill="#b4b4b4"/>
<rect x="287" y="5" width="4" height="1" fill="#b4b4b4"/>
<rect x="287" y="7" width="4" height="1" fill="#b4b4b4"/>
<rect x="287" y="9" width="4" height="1" fill="#b4b4b4"/>
<rect x="287" y="11" width="4" height="1" fill="#b4b4b4"/>
<rect x="287" y="13" width="4" height="1" fill="#b4b4b4"/>
<rect x="287" y="15" width="4" height="1" fill="#b4b4b4"/>
<rect x="287" y="17" width="4" height="1" fill="#b4b4b4"/>
<rect x="287" y="19" width="4" height="1" fill="#b4b4b4"/>
<rect x="321" y="0" width="1" height="21" fill="#a0a0a0"/>
<rect x="378" y="0" width="1" height="21" fill="#a0a0a0"/>
<rect x="468" y="0" width="1" height="21" fill="#a0a0a0"/>
<rect x="473" y="0" width="1" height="21" fill="#a0a0a0"/>
<rect x="501" y="0" width="1" height="21" fill="#a0a0a0"/>
<rect x="530" y="0" width="1" height="21" fill="#a0a0a0"/>
<rect x="651" y="0" width="1" height="23" fill="#a0a0a0"/>
<rect x="652" y="0" width="1" height="23" fill="#fff"/>
<rect x="655" y="1" width="4" height="1" fill="#b4b4b4"/>
<rect x="655" y="3" width="4" height="1" fill="#b4b4b4"/>
<rect x="655" y="5" width="4" height="1" fill="#b4b4b4"/>
<rect x="655" y="7" width="4" height="1" fill="#b4b4b4"/>
<rect x="655" y="9" width="4" height="1" fill="#b4b4b4"/>
<rect x="655" y="11" width="4" height="1" fill="#b4b4b4"/>
<rect x="655" y="13" width="4" height="1" fill="#b4b4b4"/>
<rect x="655" y="15" width="4" height="1" fill="#b4b4b4"/>
<rect x="655" y="17" width="4" height="1" fill="#b4b4b4"/>
<rect x="655" y="19" width="4" height="1" fill="#b4b4b4"/>
<rect x="661" y="0" width="1" height="21" fill="#a0a0a0"/>
<rect x="718" y="0" width="1" height="21" fill="#a0a0a0"/>
<rect x="957" y="0" width="1" height="23" fill="#a0a0a0"/>
<rect x="958" y="0" width="1" height="23" fill="#fff"/>
<rect x="961" y="1" width="4" height="1" fill="#b4b4b4"/>
<rect x="961" y="3" width="4" height="1" fill="#b4b4b4"/>
<rect x="961" y="5" width="4" height="1" fill="#b4b4b4"/>
<rect x="961" y="7" width="4" height="1" fill="#b4b4b4"/>
<rect x="961" y="9" width="4" height="1" fill="#b4b4b4"/>
<rect x="961" y="11" width="4" height="1" fill="#b4b4b4"/>
<rect x="961" y="13" width="4" height="1" fill="#b4b4b4"/>
<rect x="961" y="15" width="4" height="1" fill="#b4b4b4"/>
<rect x="961" y="17" width="4" height="1" fill="#b4b4b4"/>
<rect x="961" y="19" width="4" height="1" fill="#b4b4b4"/>
<rect x="1135" y="0" width="1" height="21" fill="#a0a0a0"/>
<rect x="1218" y="0" width="1" height="21" fill="#a0a0a0"/>
<rect x="322" y="0" width="24" height="21" fill="#f8f8f8"/>
<rect x="346" y="0" width="1" height="22" fill="#fff"/>
<rect x="322" y="21" width="24" height="1" fill="#fff"/>
<rect x="474" y="0" width="26" height="21" fill="#f8f8f8"/>
<rect x="500" y="0" width="1" height="22" fill="#fff"/>
<rect x="474" y="21" width="26" height="1" fill="#fff"/>
<rect x="502" y="0" width="26" height="21" fill="#f8f8f8"/>
<rect x="528" y="0" width="1" height="22" fill="#fff"/>
<rect x="502" y="21" width="26" height="1" fill="#fff"/>
<rect x="662" y="0" width="25" height="21" fill="#f8f8f8"/>
<rect x="687" y="0" width="1" height="22" fill="#fff"/>
<rect x="662" y="21" width="25" height="1" fill="#fff"/>
<rect x="1136" y="0" width="25" height="21" fill="#f8f8f8"/>
<rect x="1161" y="0" width="1" height="22" fill="#fff"/>
<rect x="1136" y="21" width="25" height="1" fill="#fff"/>
</g>
<rect x="-6.5" y="4.5" width="16" height="13" fill="#fff" stroke="#3a78c8"/>
<path d="M-6,8.5 H9 M-6,11.5 H9 M-6,14.5 H9" stroke="#b9d2f2" stroke-width="1"/>
<path d="M10,4 l1.5,1.5 M11.5,4 L10,5.5" stroke="#333" stroke-width="0.8"/>
<rect x="22.5" y="3.5" width="12" height="13" fill="#f4f1ea" stroke="#b9ad98"/>
<path d="M25.5,5 v5 M24,9.5 h4 M31.5,5 v3 M29.5,10 v5 M31.5,10 v5" stroke="#7d8590" stroke-width="1"/>
<circle cx="30.5" cy="12" r="5.1" fill="#d6e8f6" fill-opacity="0.85" stroke="#6f9be0" stroke-width="1.3"/>
<path d="M35,16.3 L38.8,19.3" stroke="#d0a018" stroke-width="2.8" stroke-linecap="butt"/>
<path d="M57.5,3.5 h8 l3,3 v10 h-11 z" fill="#fff" stroke="#8c8c8c"/>
<path d="M59.5,7 h4 M59.5,9.5 h6 M59.5,12 h4" stroke="#999" stroke-width="1"/>
<path d="M65.5,10 h4 v3.5 h3.5 v4 h-3.5 v3.5 h-4 v-3.5 h-3.5 v-4 h3.5 z" fill="#2fd12f" stroke="#0f8a0f" stroke-width="0.8"/>
<text x="75.5" y="14" font-size="12" fill="#000" font-family="Liberation Sans, Noto Sans CJK SC, sans-serif" textLength="36" lengthAdjust="spacingAndGlyphs">新订单</text>
<path d="M124.2,13 L130,4.3 L140,12 L132.2,18.8 Z" fill="#9a6a10"/>
<path d="M124.2,12.2 L130,4.3 L139.2,11.2 L132,17.4 Z" fill="#e9bd2c"/>
<path d="M126.5,11.5 L130.5,6 L136.5,10.5" fill="none" stroke="#f8e48a" stroke-width="1.6"/>
<path d="M125,13.4 L132,18 L139.6,11.8" fill="none" stroke="#c08a1a" stroke-width="0.9"/>
<path d="M154.6,4.6 L158,3.2 L165.4,3.2 L165.4,12.5 L154.6,12.5 Z" fill="#2b95f5" stroke="#1c6fd0" stroke-width="0.7"/>
<path d="M158,3.4 V12" stroke="#9fd0ff" stroke-width="0.9"/>
<path d="M159.5,6.5 h4.5 M159.5,9 h4.5" stroke="#e6f3ff" stroke-width="1.1"/>
<path d="M155.6,18.4 a3.3,3.3 0 0 1 -0.4,-6.5 a3.7,3.7 0 0 1 6.6,-1 a3.1,3.1 0 0 1 4.3,2.3 a2.7,2.7 0 0 1 -0.5,5.2 z" fill="#f3f6fb" stroke="#5f84c0" stroke-width="1"/>
<circle cx="188" cy="11" r="7.2" fill="none" stroke="#9db9e8" stroke-width="1.2"/>
<circle cx="188" cy="11" r="4.6" fill="none" stroke="#6a93d8" stroke-width="1.2"/>
<path d="M188,11 V18.5 A7.4,7.4 0 0 0 195.3,10" fill="#9ed29e" fill-opacity="0.75" stroke="#4aa84a" stroke-width="1"/>
<circle cx="188" cy="10.5" r="1.8" fill="#2d62c4"/>
<path d="M188,11 V18.5" stroke="#2f9e2f" stroke-width="1.6"/>
<path d="M208,10.5 L222.5,9.8 L215.2,18.8 Z" fill="#f5d84e" stroke="#c9a21a" stroke-width="0.8"/>
<ellipse cx="215.2" cy="8" rx="7.8" ry="2.7" fill="#4f9ad8" stroke="#2f78b8" stroke-width="0.8"/>
<path d="M211.3,7.4 C211.3,2.2 219.2,2.2 219.2,7.4 Z" fill="#7cbde8" stroke="#2f78b8" stroke-width="0.8"/>
<circle cx="219.5" cy="14.8" r="4.2" fill="#e02a1c" stroke="#b01a10" stroke-width="0.6"/>
<rect x="217.8" y="13.1" width="3.4" height="3.4" fill="#fff"/>
<text x="228" y="14" font-size="12" fill="#000" font-family="Liberation Sans, Noto Sans CJK SC, sans-serif" textLength="47.5" lengthAdjust="spacingAndGlyphs">自动交易</text>
<path d="M301.5,6 V19 M299,16.5 H312" stroke="#555" stroke-width="1" fill="none"/>
<path d="M299.7,7.8 L301.5,4.8 L303.3,7.8 Z M310.2,14.7 L313.4,16.5 L310.2,18.3 Z" fill="#555"/>
<path d="M308.5,6 v9 M308.5,7.5 h2.5 M305.5,13.5 h3" stroke="#1f9a1f" stroke-width="1.3" fill="none"/>
<path d="M329.5,6 V19 M327,16.5 H340" stroke="#555" stroke-width="1" fill="none"/>
<path d="M327.7,7.8 L329.5,4.8 L331.3,7.8 Z M338.2,14.7 L341.4,16.5 L338.2,18.3 Z" fill="#555"/>
<path d="M335.5,3 v12" stroke="#0a8a0a" stroke-width="1.2"/><rect x="333.5" y="5.5" width="4" height="7" fill="#55e855" stroke="#0a8a0a" stroke-width="1"/>
<path d="M357.5,6 V19 M355,16.5 H368" stroke="#555" stroke-width="1" fill="none"/>
<path d="M355.7,7.8 L357.5,4.8 L359.3,7.8 Z M366.2,14.7 L369.4,16.5 L366.2,18.3 Z" fill="#555"/>
<path d="M356.5,14 C359,10 361,7.5 363,8.5 S366,11.5 368,12" stroke="#2f9a2f" stroke-width="1.2" fill="none"/>
<path d="M397,13.5 L402,18" stroke="#d8b030" stroke-width="2.6" stroke-linecap="round"/>
<circle cx="393" cy="9" r="5.3" fill="#d8e9fa" stroke="#3d7bd0" stroke-width="1.3"/>
<path d="M390,9 h6" stroke="#2f6fc4" stroke-width="1.6"/>
<path d="M393,6 v6" stroke="#2f6fc4" stroke-width="1.6"/>
<path d="M425,13.5 L430,18" stroke="#d8b030" stroke-width="2.6" stroke-linecap="round"/>
<circle cx="421" cy="9" r="5.3" fill="#d8e9fa" stroke="#3d7bd0" stroke-width="1.3"/>
<path d="M418,9 h6" stroke="#2f6fc4" stroke-width="1.6"/>
<rect x="443" y="3" width="8" height="8" rx="1" fill="#4fb030" stroke="#2f8a18" stroke-width="0.6"/>
<rect x="444.5" y="6.5" width="5" height="3" fill="#fff" fill-opacity="0.9"/>
<rect x="445.5" y="7.8" width="3" height="0.9" fill="#4fb030"/>
<rect x="451" y="3" width="8" height="8" rx="1" fill="#3f7fe0" stroke="#1f4fc0" stroke-width="0.6"/>
<rect x="452.5" y="6.5" width="5" height="3" fill="#fff" fill-opacity="0.9"/>
<rect x="453.5" y="7.8" width="3" height="0.9" fill="#3f7fe0"/>
<rect x="443" y="11" width="8" height="8" rx="1" fill="#3f7fe0" stroke="#1f4fc0" stroke-width="0.6"/>
<rect x="444.5" y="14.5" width="5" height="3" fill="#fff" fill-opacity="0.9"/>
<rect x="445.5" y="15.8" width="3" height="0.9" fill="#3f7fe0"/>
<rect x="451" y="11" width="8" height="8" rx="1" fill="#4fb030" stroke="#2f8a18" stroke-width="0.6"/>
<rect x="452.5" y="14.5" width="5" height="3" fill="#fff" fill-opacity="0.9"/>
<rect x="453.5" y="15.8" width="3" height="0.9" fill="#4fb030"/>
<path d="M481.5,6 V19 M479,16.5 H492" stroke="#555" stroke-width="1" fill="none"/>
<path d="M479.7,7.8 L481.5,4.8 L483.3,7.8 Z M490.2,14.7 L493.4,16.5 L490.2,18.3 Z" fill="#555"/>
<path d="M486.5,7.5 L490.5,10.5 L486.5,13.5 Z" fill="#bfe8bf" stroke="#2fa02f" stroke-width="1.1"/>
<path d="M509.5,6 V19 M507,16.5 H520" stroke="#555" stroke-width="1" fill="none"/>
<path d="M507.7,7.8 L509.5,4.8 L511.3,7.8 Z M518.2,14.7 L521.4,16.5 L518.2,18.3 Z" fill="#555"/>
<path d="M515.5,5 v10" stroke="#1f6fb0" stroke-width="1.2"/><path d="M521,10.5 h-4 M519,8.5 l-2.2,2 l2.2,2" stroke="#d04a10" stroke-width="1.1" fill="none"/>
<path d="M540.5,3.5 h8 l3,3 v9.5 h-11 z" fill="#fff" stroke="#8c8c8c"/>
<path d="M543,8 v6" stroke="#777" stroke-width="1"/>
<path d="M548.5,9.5 h4 v3.5 h3.5 v4 h-3.5 v3.5 h-4 v-3.5 h-3.5 v-4 h3.5 z" fill="#2fd12f" stroke="#0f8a0f" stroke-width="0.8"/>
<polygon points="561,10 567,10 564,13.5" fill="#000"/>
<circle cx="586" cy="11" r="7.3" fill="#fff" stroke="#1f66c8" stroke-width="2.2"/>
<path d="M586,6.5 V11 H589.5" stroke="#333" stroke-width="1.2" fill="none"/>
<polygon points="600.5,10 606.5,10 603.5,13.5" fill="#000"/>
<rect x="617.5" y="4.5" width="15" height="13" fill="#fff" stroke="#3f78c8"/>
<rect x="618" y="5" width="14" height="2" fill="#6fa0e0"/>
<path d="M618,11.5 h14" stroke="#3f78c8" stroke-width="1"/>
<path d="M619.5,10 l3,-0.5 l3,-1.5 l3,0.8 l3,-1" stroke="#a82010" stroke-width="1.2" fill="none"/>
<path d="M619.5,15.5 l3,-0.5 l2.5,-1.5 l2.5,1.5 l3,-1" stroke="#1f9a1f" stroke-width="1.2" fill="none"/>
<polygon points="639.5,10 645.5,10 642.5,13.5" fill="#000"/>
<path d="M669,4 L669,16 L672,13.3 L674.3,18 L676,17.2 L673.8,12.6 L678,12.5 Z" fill="#4a4a4a"/>
<path d="M701.5,4 v6 M701.5,13 v6 M694,11.5 h6 M703,11.5 h6" stroke="#555" stroke-width="1"/>
<path d="M735.5,5 v13" stroke="#555" stroke-width="1.2"/>
<path d="M758,11.5 h12" stroke="#555" stroke-width="1.2"/>
<path d="M786,18 L798,6" stroke="#555" stroke-width="1.2"/>
<path d="M812,12.5 L824,4 M813,17.5 L826,8 M815,10 l1.5,7 M818.5,7.5 l1.5,7.5 M822,5 l1.5,7" stroke="#555" stroke-width="1"/>
<text x="823" y="20" font-size="7" fill="#333" font-family="Liberation Sans, Arial, sans-serif" font-weight="bold">E</text>
<line x1="841" y1="4.5" x2="854" y2="4.5" stroke="#555" stroke-width="1" stroke-dasharray="1 1"/>
<line x1="841" y1="7.5" x2="854" y2="7.5" stroke="#555" stroke-width="1" stroke-dasharray="1 1"/>
<line x1="841" y1="11.5" x2="854" y2="11.5" stroke="#555" stroke-width="1" stroke-dasharray="1 1"/>
<line x1="841" y1="15.5" x2="849" y2="15.5" stroke="#555" stroke-width="1" stroke-dasharray="1 1"/>
<text x="851" y="20" font-size="7" fill="#333" font-family="Liberation Sans, Arial, sans-serif" font-weight="bold">F</text>
<text x="871.5" y="16" font-size="13" fill="#555" font-family="Liberation Sans, Arial, sans-serif" textLength="8" lengthAdjust="spacingAndGlyphs">A</text>
<g shape-rendering="crispEdges">
<rect x="898" y="5" width="1" height="1" fill="#555"/>
<rect x="898" y="17" width="1" height="1" fill="#555"/>
<rect x="900" y="5" width="1" height="1" fill="#555"/>
<rect x="900" y="17" width="1" height="1" fill="#555"/>
<rect x="902" y="5" width="1" height="1" fill="#555"/>
<rect x="902" y="17" width="1" height="1" fill="#555"/>
<rect x="904" y="5" width="1" height="1" fill="#555"/>
<rect x="904" y="17" width="1" height="1" fill="#555"/>
<rect x="906" y="5" width="1" height="1" fill="#555"/>
<rect x="906" y="17" width="1" height="1" fill="#555"/>
<rect x="908" y="5" width="1" height="1" fill="#555"/>
<rect x="908" y="17" width="1" height="1" fill="#555"/>
<rect x="910" y="5" width="1" height="1" fill="#555"/>
<rect x="910" y="17" width="1" height="1" fill="#555"/>
<rect x="898" y="5" width="1" height="1" fill="#555"/>
<rect x="910" y="5" width="1" height="1" fill="#555"/>
<rect x="898" y="7" width="1" height="1" fill="#555"/>
<rect x="910" y="7" width="1" height="1" fill="#555"/>
<rect x="898" y="9" width="1" height="1" fill="#555"/>
<rect x="910" y="9" width="1" height="1" fill="#555"/>
<rect x="898" y="11" width="1" height="1" fill="#555"/>
<rect x="910" y="11" width="1" height="1" fill="#555"/>
<rect x="898" y="13" width="1" height="1" fill="#555"/>
<rect x="910" y="13" width="1" height="1" fill="#555"/>
<rect x="898" y="15" width="1" height="1" fill="#555"/>
<rect x="910" y="15" width="1" height="1" fill="#555"/>
<rect x="898" y="17" width="1" height="1" fill="#555"/>
<rect x="910" y="17" width="1" height="1" fill="#555"/>
<rect x="897" y="4" width="2" height="2" fill="#555"/>
</g>
<text x="904.4" y="15.5" font-size="11.5" fill="#555" font-family="Liberation Sans, Arial, sans-serif" text-anchor="middle">T</text>
<path d="M929,4.5 L933.2,8.8 L929,10.2 L924.8,8.8 Z" fill="#444"/>
<path d="M936,18.2 L940.2,13.8 L936,12.6 L931.8,13.8 Z" fill="#444"/>
<path d="M927,11.5 l2.6,3 l5.6,-7" stroke="#444" stroke-width="1.3" fill="none"/>
<polygon points="945.5,10 951.5,10 948.5,13.5" fill="#000"/>
<text x="979" y="15" font-size="10" fill="#3c3c3c" font-family="Liberation Sans, Arial, sans-serif" text-anchor="middle" textLength="12.5" lengthAdjust="spacingAndGlyphs">M1</text>
<text x="1007" y="15" font-size="10" fill="#3c3c3c" font-family="Liberation Sans, Arial, sans-serif" text-anchor="middle" textLength="12.5" lengthAdjust="spacingAndGlyphs">M5</text>
<text x="1035.5" y="15" font-size="10" fill="#3c3c3c" font-family="Liberation Sans, Arial, sans-serif" text-anchor="middle" textLength="17.5" lengthAdjust="spacingAndGlyphs">M15</text>
<text x="1063.5" y="15" font-size="10" fill="#3c3c3c" font-family="Liberation Sans, Arial, sans-serif" text-anchor="middle" textLength="17.5" lengthAdjust="spacingAndGlyphs">M30</text>
<text x="1091.5" y="15" font-size="10" fill="#3c3c3c" font-family="Liberation Sans, Arial, sans-serif" text-anchor="middle" textLength="11.5" lengthAdjust="spacingAndGlyphs">H1</text>
<text x="1119" y="15" font-size="10" fill="#3c3c3c" font-family="Liberation Sans, Arial, sans-serif" text-anchor="middle" textLength="12" lengthAdjust="spacingAndGlyphs">H4</text>
<text x="1147.5" y="15" font-size="10" fill="#3c3c3c" font-family="Liberation Sans, Arial, sans-serif" text-anchor="middle" textLength="11" lengthAdjust="spacingAndGlyphs">D1</text>
<text x="1176.2" y="15" font-size="10" fill="#3c3c3c" font-family="Liberation Sans, Arial, sans-serif" text-anchor="middle" textLength="14" lengthAdjust="spacingAndGlyphs">W1</text>
<text x="1203.2" y="15" font-size="10" fill="#3c3c3c" font-family="Liberation Sans, Arial, sans-serif" text-anchor="middle" textLength="14.5" lengthAdjust="spacingAndGlyphs">MN</text>
<circle cx="1689.5" cy="8" r="3.6" fill="#eaf2ff" stroke="#2f62c8" stroke-width="1.6"/>
<path d="M1686.8,11 L1682,15.8" stroke="#2f62c8" stroke-width="2.2" stroke-linecap="round"/>
<path d="M1709.2,15 L1708.2,18.2 L1712.2,15.8 Z" fill="#f2f2f2" stroke="#9a9a9a" stroke-width="0.9"/>
<ellipse cx="1712.6" cy="12.2" rx="5.2" ry="3.9" fill="#f4f4f4" stroke="#9a9a9a" stroke-width="1"/>
<path d="M1724.5,12.8 L1727.4,16 L1721.5,13.6 Z" fill="#fcfcfc" stroke="#a0a0a0" stroke-width="0.9"/>
<ellipse cx="1721.3" cy="8.4" rx="6.9" ry="5.2" fill="#fcfcfc" stroke="#a0a0a0" stroke-width="1"/>
<defs>
<linearGradient id="gbtn" x1="0" y1="0" x2="0" y2="1"><stop offset="0" stop-color="#5858f4"/><stop offset="1" stop-color="#3030dc"/></linearGradient>
<linearGradient id="gprice" x1="0" y1="0" x2="0" y2="1"><stop offset="0" stop-color="#2f2fdb"/><stop offset="0.55" stop-color="#1010c4"/><stop offset="1" stop-color="#0000ac"/></linearGradient>
<linearGradient id="gspin" x1="0" y1="0" x2="0" y2="1"><stop offset="0" stop-color="#f4f4f4"/><stop offset="0.5" stop-color="#e4e4e4"/><stop offset="1" stop-color="#d0d0d0"/></linearGradient>
</defs>
<g shape-rendering="crispEdges">
<rect x="0" y="47" width="50" height="24" fill="url(#gbtn)"/>
<rect x="165" y="47" width="52" height="24" fill="url(#gbtn)"/>
<rect x="0" y="71" width="107" height="40" fill="url(#gprice)"/>
<rect x="109" y="71" width="108" height="40" fill="url(#gprice)"/>
<rect x="107" y="71" width="2" height="40" fill="#fff"/>
<rect x="2" y="70" width="44" height="1" fill="#8c8cff"/>
<rect x="169" y="70" width="44" height="1" fill="#8c8cff"/>
<rect x="50" y="47" width="115" height="24" fill="#e8e8e8"/>
<rect x="52" y="48" width="111" height="20" fill="#b0b0b0"/>
<rect x="53" y="49" width="20" height="18" fill="url(#gspin)"/>
<rect x="74" y="49" width="67" height="18" fill="#fff"/>
<rect x="142" y="49" width="20" height="18" fill="url(#gspin)"/>
</g>
<polygon points="60,56 65.5,56 62.75,59" fill="#4a5fc0"/>
<polygon points="149,59 154.5,59 151.75,56" fill="#4a5fc0"/>
<text x="23.5" y="63" font-size="12" fill="#fff" font-family="Liberation Sans, Arial, sans-serif" text-anchor="middle" textLength="26" lengthAdjust="spacingAndGlyphs">SELL</text>
<text x="190" y="63" font-size="12" fill="#fff" font-family="Liberation Sans, Arial, sans-serif" text-anchor="middle" textLength="23" lengthAdjust="spacingAndGlyphs">BUY</text>
<text x="137.5" y="62.5" font-size="12.5" fill="#000" font-family="Liberation Sans, Arial, sans-serif" text-anchor="end">1.00</text>
<text x="21.5" y="102" font-size="10.5" fill="#fff" font-family="Liberation Sans, Arial, sans-serif" font-weight="bold" textLength="19" lengthAdjust="spacingAndGlyphs">107</text>
<text x="44.5" y="102" font-size="31.5" fill="#fff" font-family="Liberation Sans, Arial, sans-serif" textLength="36" lengthAdjust="spacingAndGlyphs">46</text>
<text x="86" y="86" font-size="10.5" fill="#fff" font-family="Liberation Sans, Arial, sans-serif" font-weight="bold">1</text>
<text x="131.5" y="102" font-size="10.5" fill="#fff" font-family="Liberation Sans, Arial, sans-serif" font-weight="bold" textLength="19" lengthAdjust="spacingAndGlyphs">107</text>
<text x="155.5" y="102" font-size="31.5" fill="#fff" font-family="Liberation Sans, Arial, sans-serif" textLength="36" lengthAdjust="spacingAndGlyphs">48</text>
<text x="196.5" y="86" font-size="10.5" fill="#fff" font-family="Liberation Sans, Arial, sans-serif" font-weight="bold">6</text>
</svg>
</body></html>
